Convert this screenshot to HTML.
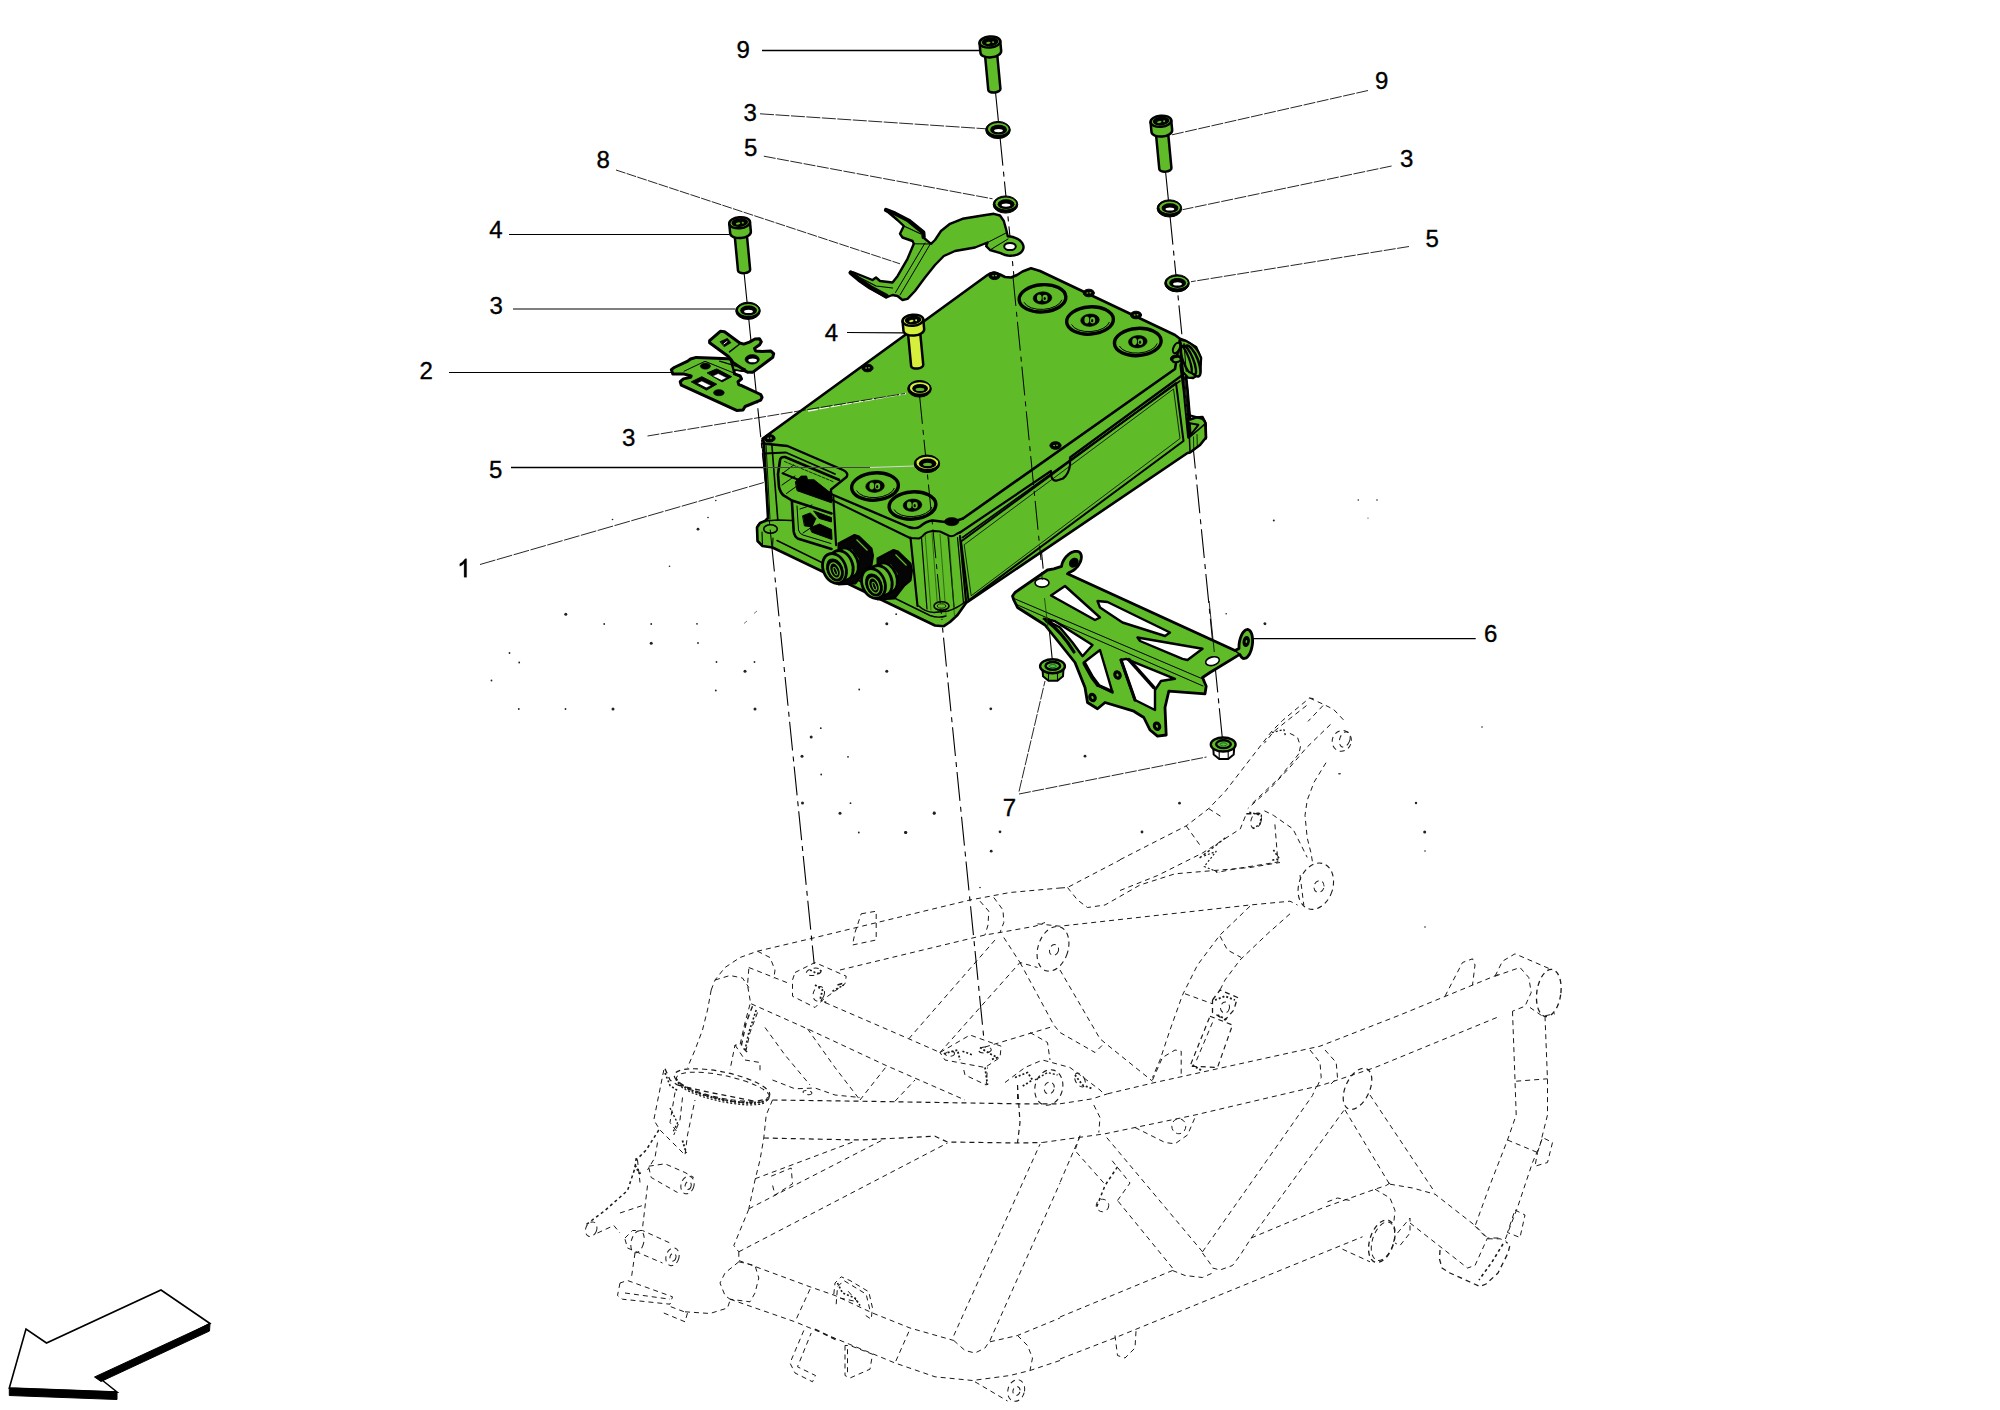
<!DOCTYPE html>
<html><head><meta charset="utf-8"><title>Parts diagram</title>
<style>
html,body{margin:0;padding:0;background:#fff;}
body{width:2000px;height:1410px;overflow:hidden;}
svg{display:block;}
text{font-family:"Liberation Sans",sans-serif;fill:#000;stroke:#000;stroke-width:0.35px;}
</style></head><body>
<svg width="2000" height="1410" viewBox="0 0 2000 1410">
<rect width="2000" height="1410" fill="#fff"/>
<path d="M711.2,990.0 L715.0,980.0 L725.0,967.5 L740.0,957.5 L757.5,951.2 L810.0,938.8 L970.0,900.0 L1010.0,892.5 L1060.0,888.0" fill="none" stroke="#1a1a1a" stroke-width="1.0" stroke-linejoin="round" stroke-dasharray="5 4"/>
<path d="M840.0,970.0 L985.0,935.0 L1000.0,932.5 L1035.0,926.2 L1045.0,922.5" fill="none" stroke="#1a1a1a" stroke-width="1.0" stroke-linejoin="round" stroke-dasharray="5 4"/>
<path d="M711.2,990.0 L707.5,1010.0 L702.5,1030.0 L695.0,1050.0 L687.5,1067.5" fill="none" stroke="#1a1a1a" stroke-width="1.0" stroke-linejoin="round" stroke-dasharray="5 4"/>
<path d="M748.8,968.8 L747.5,985.0 L750.5,1002.5 L745.0,1022.5 L740.0,1045.0 L735.0,1045.0 L730.0,1070.0" fill="none" stroke="#1a1a1a" stroke-width="1.0" stroke-linejoin="round" stroke-dasharray="5 4"/>
<path d="M715.0,980.0 L730.0,975.5 L742.5,978.0 L748.8,987.5" fill="none" stroke="#1a1a1a" stroke-width="1.0" stroke-linejoin="round" stroke-dasharray="5 4"/>
<path d="M757.5,951.2 L770.0,957.5 L775.0,970.0 L773.8,978.8" fill="none" stroke="#1a1a1a" stroke-width="1.0" stroke-linejoin="round" stroke-dasharray="5 4"/>
<path d="M748.8,967.5 L790.0,983.8" fill="none" stroke="#1a1a1a" stroke-width="1.0" stroke-linejoin="round" stroke-dasharray="5 4"/>
<path d="M795.0,972.5 L815.0,962.5 L846.2,976.2 L845.0,983.8 L822.5,1000.0 L815.0,1007.5 L792.5,996.2 L792.5,980.0 L795.0,972.5" fill="none" stroke="#1a1a1a" stroke-width="1.0" stroke-linejoin="round" stroke-dasharray="5 4"/>
<ellipse cx="813.8" cy="971.8" rx="7.5" ry="3.5" fill="none" stroke="#1a1a1a" stroke-width="1.0" transform="rotate(-10 813.8 971.8)" stroke-dasharray="5 4"/>
<ellipse cx="818.8" cy="993.8" rx="5.5" ry="7.5" fill="none" stroke="#1a1a1a" stroke-width="1.0" transform="rotate(20 818.8 993.8)" stroke-dasharray="5 4"/>
<path d="M837.5,985.0 L845.0,982.5" fill="none" stroke="#1a1a1a" stroke-width="1.6" stroke-linejoin="round" stroke-dasharray="5 4"/>
<path d="M751.2,1003.8 L810.0,1030.0 L885.0,1065.0 L965.0,1100.0" fill="none" stroke="#1a1a1a" stroke-width="1.0" stroke-linejoin="round" stroke-dasharray="5 4"/>
<path d="M825.0,1002.5 L908.8,1038.8 L940.0,1052.5" fill="none" stroke="#1a1a1a" stroke-width="1.0" stroke-linejoin="round" stroke-dasharray="5 4"/>
<path d="M807.5,1028.8 L835.0,1067.5 L860.0,1100.0" fill="none" stroke="#1a1a1a" stroke-width="1.0" stroke-linejoin="round" stroke-dasharray="5 4"/>
<path d="M765.0,1027.5 L785.0,1055.0 L810.0,1085.0" fill="none" stroke="#1a1a1a" stroke-width="1.0" stroke-linejoin="round" stroke-dasharray="5 4"/>
<path d="M860.0,1100.0 L887.5,1065.0" fill="none" stroke="#1a1a1a" stroke-width="1.0" stroke-linejoin="round" stroke-dasharray="5 4"/>
<path d="M895.0,1101.2 L915.0,1080.0" fill="none" stroke="#1a1a1a" stroke-width="1.0" stroke-linejoin="round" stroke-dasharray="5 4"/>
<path d="M772.5,1100.0 L860.0,1101.2 L1017.5,1103.8 L1060.0,1103.8" fill="none" stroke="#1a1a1a" stroke-width="1.2" stroke-linejoin="round" stroke-dasharray="5 4"/>
<path d="M763.8,1138.0 L860.0,1140.0 L935.0,1136.2 L947.5,1142.0 L1017.5,1143.0 L1042.5,1142.5" fill="none" stroke="#1a1a1a" stroke-width="1.2" stroke-linejoin="round" stroke-dasharray="5 4"/>
<path d="M772.5,1100.0 L766.2,1115.0 L763.8,1138.0 L760.0,1160.0 L755.0,1180.0 L748.8,1208.8" fill="none" stroke="#1a1a1a" stroke-width="1.0" stroke-linejoin="round" stroke-dasharray="5 4"/>
<path d="M1017.5,1085.0 L1020.0,1122.5 L1017.5,1143.0" fill="none" stroke="#1a1a1a" stroke-width="1.2" stroke-linejoin="round" stroke-dasharray="5 4"/>
<ellipse cx="722.0" cy="1085.0" rx="48.75" ry="13.0" fill="none" stroke="#1a1a1a" stroke-width="1.2" transform="rotate(12 722.0 1085.0)" stroke-dasharray="5 4"/>
<ellipse cx="723.0" cy="1087.5" rx="47.5" ry="12.0" fill="none" stroke="#1a1a1a" stroke-width="1.0" transform="rotate(12 723.0 1087.5)" stroke-dasharray="5 4"/>
<path d="M677.5,1085.0 L710.0,1092.5 L755.0,1101.2" fill="none" stroke="#1a1a1a" stroke-width="1.3" stroke-linejoin="round" stroke-dasharray="5 4"/>
<path d="M663.8,1070.0 L653.8,1120.0 L660.0,1130.0 L685.0,1155.0 L687.5,1135.0 L695.0,1100.0" fill="none" stroke="#1a1a1a" stroke-width="1.0" stroke-linejoin="round" stroke-dasharray="5 4"/>
<path d="M675.0,1092.5 L670.0,1122.5 L677.5,1132.5" fill="none" stroke="#1a1a1a" stroke-width="1.0" stroke-linejoin="round" stroke-dasharray="5 4"/>
<path d="M682.5,1097.5 L680.0,1120.0 L673.8,1135.0" fill="none" stroke="#1a1a1a" stroke-width="1.0" stroke-linejoin="round" stroke-dasharray="5 4"/>
<path d="M665.0,1068.8 L670.0,1080.0 L677.5,1085.0" fill="none" stroke="#1a1a1a" stroke-width="1.3" stroke-linejoin="round" stroke-dasharray="5 4"/>
<path d="M752.5,1006.2 L746.2,1022.5 L741.2,1046.2 L747.5,1052.5" fill="none" stroke="#1a1a1a" stroke-width="1.4" stroke-linejoin="round" stroke-dasharray="5 4"/>
<path d="M757.5,1012.5 L750.0,1032.5 L746.2,1050.0" fill="none" stroke="#1a1a1a" stroke-width="1.0" stroke-linejoin="round" stroke-dasharray="5 4"/>
<path d="M735.0,1045.0 L745.0,1060.0 L760.0,1062.5 L760.0,1072.5" fill="none" stroke="#1a1a1a" stroke-width="1.0" stroke-linejoin="round" stroke-dasharray="5 4"/>
<path d="M772.5,1080.0 L795.0,1088.8 L815.0,1088.0 L835.0,1095.0 L860.0,1097.5" fill="none" stroke="#1a1a1a" stroke-width="1.0" stroke-linejoin="round" stroke-dasharray="5 4"/>
<ellipse cx="807.5" cy="1092.5" rx="4.5" ry="2.0" fill="none" stroke="#1a1a1a" stroke-width="1.0" transform="rotate(10 807.5 1092.5)" stroke-dasharray="5 4"/>
<path d="M755.0,1178.8 L855.0,1141.2" fill="none" stroke="#1a1a1a" stroke-width="1.0" stroke-linejoin="round" stroke-dasharray="5 4"/>
<path d="M748.8,1208.8 L882.5,1140.0" fill="none" stroke="#1a1a1a" stroke-width="1.0" stroke-linejoin="round" stroke-dasharray="5 4"/>
<path d="M771.2,1176.2 L791.2,1168.0 L792.5,1183.8 L775.0,1195.0 L772.5,1185.0" fill="none" stroke="#1a1a1a" stroke-width="1.0" stroke-linejoin="round" stroke-dasharray="5 4"/>
<path d="M908.8,1038.8 L995.0,940.0" fill="none" stroke="#1a1a1a" stroke-width="1.0" stroke-linejoin="round" stroke-dasharray="5 4"/>
<path d="M940.0,1052.5 L1020.0,962.5" fill="none" stroke="#1a1a1a" stroke-width="1.0" stroke-linejoin="round" stroke-dasharray="5 4"/>
<path d="M940.0,1052.5 L970.0,1035.0 L1001.2,1046.2 L1000.0,1057.5 L985.0,1067.5 L945.0,1060.0 L940.0,1052.5" fill="none" stroke="#1a1a1a" stroke-width="1.0" stroke-linejoin="round" stroke-dasharray="5 4"/>
<path d="M963.8,1070.0 L965.0,1075.0 L986.2,1085.0 L987.5,1067.5" fill="none" stroke="#1a1a1a" stroke-width="1.0" stroke-linejoin="round" stroke-dasharray="5 4"/>
<ellipse cx="985.0" cy="1050.0" rx="6.25" ry="3.0" fill="none" stroke="#1a1a1a" stroke-width="1.0" transform="rotate(-5 985.0 1050.0)" stroke-dasharray="5 4"/>
<ellipse cx="950.0" cy="1053.8" rx="4.5" ry="2.5" fill="none" stroke="#1a1a1a" stroke-width="1.0" transform="rotate(-5 950.0 1053.8)" stroke-dasharray="5 4"/>
<path d="M980.0,901.2 L988.8,911.2 L988.0,925.0 L985.0,935.0" fill="none" stroke="#1a1a1a" stroke-width="1.0" stroke-linejoin="round" stroke-dasharray="5 4"/>
<path d="M993.8,897.5 L1003.0,910.0 L1003.8,922.5 L1000.0,932.5" fill="none" stroke="#1a1a1a" stroke-width="1.0" stroke-linejoin="round" stroke-dasharray="5 4"/>
<path d="M648.8,1167.5 L651.2,1177.5 L677.5,1192.5" fill="none" stroke="#1a1a1a" stroke-width="1.0" stroke-linejoin="round" stroke-dasharray="5 4"/>
<path d="M648.8,1166.2 L665.0,1163.8 L685.0,1172.5 L693.8,1177.5" fill="none" stroke="#1a1a1a" stroke-width="1.0" stroke-linejoin="round" stroke-dasharray="5 4"/>
<ellipse cx="687.5" cy="1185.0" rx="6.5" ry="9.0" fill="none" stroke="#1a1a1a" stroke-width="1.0" transform="rotate(15 687.5 1185.0)" stroke-dasharray="5 4"/>
<ellipse cx="688.2" cy="1185.5" rx="3.0" ry="4.0" fill="none" stroke="#1a1a1a" stroke-width="1.0" transform="rotate(15 688.2 1185.5)" stroke-dasharray="5 4"/>
<path d="M658.8,1130.0 L646.2,1150.0 L636.2,1160.0" fill="none" stroke="#1a1a1a" stroke-width="1.5" stroke-linejoin="round" stroke-dasharray="3 3"/>
<path d="M637.5,1160.0 L640.0,1182.5" fill="none" stroke="#1a1a1a" stroke-width="1.0" stroke-linejoin="round" stroke-dasharray="5 4"/>
<path d="M657.5,1142.5 L655.0,1157.5 L647.5,1170.0" fill="none" stroke="#1a1a1a" stroke-width="1.0" stroke-linejoin="round" stroke-dasharray="5 4"/>
<path d="M748.8,1209.2 L740.0,1230.5 L733.8,1245.5 L738.8,1251.8" fill="none" stroke="#1a1a1a" stroke-width="1.0" stroke-linejoin="round" stroke-dasharray="5 4"/>
<path d="M738.8,1251.8 L947.5,1143.0" fill="none" stroke="#1a1a1a" stroke-width="1.0" stroke-linejoin="round" stroke-dasharray="5 4"/>
<path d="M738.8,1251.8 L738.8,1260.5 L810.0,1286.8 L835.0,1295.5 L872.5,1313.0 L910.0,1328.0 L953.8,1340.5" fill="none" stroke="#1a1a1a" stroke-width="1.0" stroke-linejoin="round" stroke-dasharray="5 4"/>
<path d="M730.0,1299.2 L795.0,1321.8 L895.0,1363.0 L935.0,1376.8 L972.5,1380.5 L1010.0,1375.5 L1030.0,1370.5 L1060.0,1360.5" fill="none" stroke="#1a1a1a" stroke-width="1.0" stroke-linejoin="round" stroke-dasharray="5 4"/>
<path d="M738.8,1261.8 L725.0,1273.0 L720.0,1283.0 L725.0,1295.5 L730.0,1299.2" fill="none" stroke="#1a1a1a" stroke-width="1.0" stroke-linejoin="round" stroke-dasharray="5 4"/>
<path d="M738.8,1261.8 L755.0,1265.5 L758.8,1278.0 L755.0,1293.0 L750.0,1301.8 L730.0,1299.2" fill="none" stroke="#1a1a1a" stroke-width="1.0" stroke-linejoin="round" stroke-dasharray="5 4"/>
<path d="M810.0,1289.2 L795.0,1321.8" fill="none" stroke="#1a1a1a" stroke-width="1.0" stroke-linejoin="round" stroke-dasharray="5 4"/>
<path d="M908.8,1331.8 L895.0,1363.0" fill="none" stroke="#1a1a1a" stroke-width="1.0" stroke-linejoin="round" stroke-dasharray="5 4"/>
<path d="M953.8,1340.5 L965.0,1350.5 L975.0,1353.0 L985.0,1348.0 L990.0,1340.5" fill="none" stroke="#1a1a1a" stroke-width="1.0" stroke-linejoin="round" stroke-dasharray="5 4"/>
<path d="M953.8,1335.5 L1040.0,1144.2" fill="none" stroke="#1a1a1a" stroke-width="1.0" stroke-linejoin="round" stroke-dasharray="5 4"/>
<path d="M990.0,1340.5 L1060.0,1183.0" fill="none" stroke="#1a1a1a" stroke-width="1.0" stroke-linejoin="round" stroke-dasharray="5 4"/>
<path d="M990.0,1341.8 L1017.5,1335.5 L1060.0,1318.0" fill="none" stroke="#1a1a1a" stroke-width="1.0" stroke-linejoin="round" stroke-dasharray="5 4"/>
<path d="M1017.5,1335.5 L1027.5,1345.5 L1032.5,1358.0 L1030.0,1370.5" fill="none" stroke="#1a1a1a" stroke-width="1.0" stroke-linejoin="round" stroke-dasharray="5 4"/>
<ellipse cx="1016.2" cy="1390.5" rx="8.25" ry="11.0" fill="none" stroke="#1a1a1a" stroke-width="1.0" transform="rotate(15 1016.2 1390.5)" stroke-dasharray="5 4"/>
<ellipse cx="1016.5" cy="1391.0" rx="3.5" ry="4.5" fill="none" stroke="#1a1a1a" stroke-width="1.0" transform="rotate(15 1016.5 1391.0)" stroke-dasharray="5 4"/>
<path d="M975.0,1381.8 L1007.5,1401.0" fill="none" stroke="#1a1a1a" stroke-width="1.0" stroke-linejoin="round" stroke-dasharray="5 4"/>
<path d="M833.8,1294.2 L835.0,1283.0 L841.2,1276.8 L850.0,1280.5 L868.8,1291.8 L872.5,1308.0 L871.2,1319.2 L863.8,1314.2" fill="none" stroke="#1a1a1a" stroke-width="1.0" stroke-linejoin="round" stroke-dasharray="5 4"/>
<path d="M836.2,1304.2 L837.5,1286.8 L843.8,1280.5 L866.2,1294.2 L870.0,1310.5" fill="none" stroke="#1a1a1a" stroke-width="1.0" stroke-linejoin="round" stroke-dasharray="5 4"/>
<path d="M840.0,1298.0 L857.5,1301.8 L847.5,1290.5" fill="none" stroke="#1a1a1a" stroke-width="1.0" stroke-linejoin="round" stroke-dasharray="5 4"/>
<path d="M803.8,1330.5 L790.0,1363.0 L795.0,1373.0 L812.5,1381.8 L815.5,1375.5 L797.5,1366.8 L811.2,1333.0" fill="none" stroke="#1a1a1a" stroke-width="1.0" stroke-linejoin="round" stroke-dasharray="5 4"/>
<path d="M815.0,1329.2 L837.5,1340.5" fill="none" stroke="#1a1a1a" stroke-width="1.5" stroke-linejoin="round" stroke-dasharray="5 4"/>
<path d="M845.0,1345.5 L845.0,1375.5 L850.0,1378.0 L870.0,1369.2 L872.5,1354.2 L850.0,1345.5 L845.0,1345.5" fill="none" stroke="#1a1a1a" stroke-width="1.0" stroke-linejoin="round" stroke-dasharray="5 4"/>
<path d="M847.5,1349.2 L847.5,1373.0" fill="none" stroke="#1a1a1a" stroke-width="1.0" stroke-linejoin="round" stroke-dasharray="5 4"/>
<path d="M625.0,1238.0 L632.5,1230.5 L642.5,1230.5 L670.0,1243.0" fill="none" stroke="#1a1a1a" stroke-width="1.0" stroke-linejoin="round" stroke-dasharray="5 4"/>
<path d="M625.0,1239.2 L627.5,1248.0 L662.5,1263.0" fill="none" stroke="#1a1a1a" stroke-width="1.0" stroke-linejoin="round" stroke-dasharray="5 4"/>
<ellipse cx="672.5" cy="1256.8" rx="6.5" ry="9.0" fill="none" stroke="#1a1a1a" stroke-width="1.0" transform="rotate(15 672.5 1256.8)" stroke-dasharray="5 4"/>
<ellipse cx="673.0" cy="1257.2" rx="3.0" ry="4.0" fill="none" stroke="#1a1a1a" stroke-width="1.0" transform="rotate(15 673.0 1257.2)" stroke-dasharray="5 4"/>
<ellipse cx="637.5" cy="1241.8" rx="6.25" ry="11.25" fill="none" stroke="#1a1a1a" stroke-width="1.0" transform="rotate(15 637.5 1241.8)" stroke-dasharray="5 4"/>
<ellipse cx="591.2" cy="1229.2" rx="5.5" ry="7.5" fill="none" stroke="#1a1a1a" stroke-width="1.0" transform="rotate(20 591.2 1229.2)" stroke-dasharray="5 4"/>
<path d="M636.2,1158.0 L635.0,1168.0 L627.5,1190.5 L605.0,1210.5 L585.0,1225.5" fill="none" stroke="#1a1a1a" stroke-width="1.5" stroke-linejoin="round" stroke-dasharray="3 3"/>
<path d="M597.5,1233.0 L613.8,1225.5 L620.0,1233.0" fill="none" stroke="#1a1a1a" stroke-width="1.0" stroke-linejoin="round" stroke-dasharray="5 4"/>
<path d="M647.5,1185.5 L642.5,1228.0" fill="none" stroke="#1a1a1a" stroke-width="1.0" stroke-linejoin="round" stroke-dasharray="5 4"/>
<path d="M620.0,1213.0 L642.5,1205.5" fill="none" stroke="#1a1a1a" stroke-width="1.0" stroke-linejoin="round" stroke-dasharray="5 4"/>
<path d="M635.0,1253.0 L631.2,1279.2" fill="none" stroke="#1a1a1a" stroke-width="1.0" stroke-linejoin="round" stroke-dasharray="5 4"/>
<path d="M620.0,1283.0 L617.5,1295.5 L622.5,1299.2 L670.0,1304.2 L672.5,1296.8 L627.5,1280.5 L620.0,1283.0" fill="none" stroke="#1a1a1a" stroke-width="1.0" stroke-linejoin="round" stroke-dasharray="5 4"/>
<path d="M625.0,1293.0 L670.0,1299.2" fill="none" stroke="#1a1a1a" stroke-width="1.0" stroke-linejoin="round" stroke-dasharray="5 4"/>
<path d="M663.8,1313.0 L685.0,1321.8 L687.5,1313.0 L667.5,1305.5" fill="none" stroke="#1a1a1a" stroke-width="1.0" stroke-linejoin="round" stroke-dasharray="5 4"/>
<path d="M685.0,1311.8 L710.0,1313.5 L727.5,1308.0 L730.0,1300.5" fill="none" stroke="#1a1a1a" stroke-width="1.0" stroke-linejoin="round" stroke-dasharray="5 4"/>
<path d="M1060.0,888.0 L1067.5,887.5 L1120.0,860.0" fill="none" stroke="#1a1a1a" stroke-width="1.0" stroke-linejoin="round" stroke-dasharray="5 4"/>
<path d="M1067.5,887.5 L1077.5,900.0 L1087.5,907.5 L1105.0,905.0 L1140.0,885.0 L1175.0,873.8 L1250.0,867.5 L1280.0,862.5" fill="none" stroke="#1a1a1a" stroke-width="1.0" stroke-linejoin="round" stroke-dasharray="5 4"/>
<path d="M1037.5,923.8 L1060.0,926.2 L1250.0,905.0 L1290.0,901.2 L1297.5,905.0" fill="none" stroke="#1a1a1a" stroke-width="1.0" stroke-linejoin="round" stroke-dasharray="5 4"/>
<ellipse cx="1315.8" cy="886.2" rx="17.0" ry="23.75" fill="none" stroke="#1a1a1a" stroke-width="1.1" transform="rotate(18 1315.8 886.2)" stroke-dasharray="5 4"/>
<ellipse cx="1319.0" cy="886.5" rx="5.0" ry="6.0" fill="none" stroke="#1a1a1a" stroke-width="1.0" transform="rotate(18 1319.0 886.5)" stroke-dasharray="5 4"/>
<path d="M1300.0,875.0 L1303.8,905.0" fill="none" stroke="#1a1a1a" stroke-width="1.0" stroke-linejoin="round" stroke-dasharray="5 4"/>
<ellipse cx="1053.0" cy="948.8" rx="15.0" ry="23.0" fill="none" stroke="#1a1a1a" stroke-width="1.1" transform="rotate(18 1053.0 948.8)" stroke-dasharray="5 4"/>
<ellipse cx="1054.0" cy="950.0" rx="4.5" ry="5.5" fill="none" stroke="#1a1a1a" stroke-width="1.0" transform="rotate(18 1054.0 950.0)" stroke-dasharray="5 4"/>
<path d="M1003.8,937.5 L1020.0,962.5 L1037.5,967.5" fill="none" stroke="#1a1a1a" stroke-width="1.0" stroke-linejoin="round" stroke-dasharray="5 4"/>
<path d="M1020.0,962.5 L1053.8,1025.0 L1060.0,1032.5 L1095.0,1052.5 L1102.5,1045.0" fill="none" stroke="#1a1a1a" stroke-width="1.0" stroke-linejoin="round" stroke-dasharray="5 4"/>
<path d="M1060.0,970.0 L1100.0,1038.8 L1107.5,1045.0 L1152.5,1081.2" fill="none" stroke="#1a1a1a" stroke-width="1.0" stroke-linejoin="round" stroke-dasharray="5 4"/>
<path d="M985.0,1047.0 L1000.0,1042.5 L1053.8,1026.2" fill="none" stroke="#1a1a1a" stroke-width="1.0" stroke-linejoin="round" stroke-dasharray="5 4"/>
<path d="M1030.0,1032.5 L1047.5,1042.5 L1050.0,1060.0" fill="none" stroke="#1a1a1a" stroke-width="1.0" stroke-linejoin="round" stroke-dasharray="5 4"/>
<path d="M1250.0,906.2 L1220.0,935.0 L1197.5,965.0 L1182.5,995.0 L1170.0,1030.0 L1160.0,1060.0 L1152.5,1077.5" fill="none" stroke="#1a1a1a" stroke-width="1.0" stroke-linejoin="round" stroke-dasharray="5 4"/>
<path d="M1290.0,913.8 L1267.5,933.8 L1240.0,960.0 L1225.0,980.0 L1220.0,990.0" fill="none" stroke="#1a1a1a" stroke-width="1.0" stroke-linejoin="round" stroke-dasharray="5 4"/>
<path d="M1220.0,936.2 L1227.5,950.0 L1241.2,957.5" fill="none" stroke="#1a1a1a" stroke-width="1.0" stroke-linejoin="round" stroke-dasharray="5 4"/>
<path d="M1185.0,993.8 L1212.5,1003.8" fill="none" stroke="#1a1a1a" stroke-width="1.0" stroke-linejoin="round" stroke-dasharray="5 4"/>
<path d="M1212.5,1000.0 L1220.0,990.0 L1237.5,997.5 L1233.8,1010.0 L1225.0,1020.0 L1212.5,1012.5 L1212.5,1000.0" fill="none" stroke="#1a1a1a" stroke-width="1.3" stroke-linejoin="round" stroke-dasharray="5 4"/>
<ellipse cx="1225.0" cy="1007.5" rx="4.5" ry="5.5" fill="none" stroke="#1a1a1a" stroke-width="1.0" transform="rotate(10 1225.0 1007.5)" stroke-dasharray="5 4"/>
<path d="M1210.0,1016.2 L1232.5,1025.0 L1217.5,1067.5 L1190.0,1066.2 L1210.0,1016.2" fill="none" stroke="#1a1a1a" stroke-width="1.2" stroke-linejoin="round" stroke-dasharray="5 4"/>
<path d="M1212.5,1022.5 L1195.0,1063.8" fill="none" stroke="#1a1a1a" stroke-width="1.0" stroke-linejoin="round" stroke-dasharray="5 4"/>
<path d="M1152.5,1080.0 L1162.5,1057.5 L1175.0,1050.0 L1181.2,1051.2 L1181.2,1077.5" fill="none" stroke="#1a1a1a" stroke-width="1.0" stroke-linejoin="round" stroke-dasharray="5 4"/>
<path d="M1107.5,1093.8 L1155.0,1082.5 L1320.0,1046.2 L1400.0,1015.0 L1500.0,973.8" fill="none" stroke="#1a1a1a" stroke-width="1.0" stroke-linejoin="round" stroke-dasharray="5 4"/>
<path d="M1042.5,1142.5 L1105.0,1133.8 L1195.0,1115.0 L1322.5,1085.0 L1375.0,1067.5 L1500.0,1016.2" fill="none" stroke="#1a1a1a" stroke-width="1.0" stroke-linejoin="round" stroke-dasharray="5 4"/>
<path d="M1060.0,1103.8 L1092.5,1098.8 L1107.5,1093.8" fill="none" stroke="#1a1a1a" stroke-width="1.0" stroke-linejoin="round" stroke-dasharray="5 4"/>
<path d="M1093.8,1105.0 L1100.0,1117.5 L1098.8,1132.5" fill="none" stroke="#1a1a1a" stroke-width="1.0" stroke-linejoin="round" stroke-dasharray="5 4"/>
<path d="M1310.0,1050.0 L1320.0,1062.5 L1321.2,1077.5 L1316.2,1088.8" fill="none" stroke="#1a1a1a" stroke-width="1.0" stroke-linejoin="round" stroke-dasharray="5 4"/>
<path d="M1325.0,1050.0 L1336.2,1062.5 L1337.5,1077.5 L1330.0,1085.0" fill="none" stroke="#1a1a1a" stroke-width="1.0" stroke-linejoin="round" stroke-dasharray="5 4"/>
<path d="M1445.0,996.2 L1462.5,962.5 L1472.5,958.8 L1475.0,965.0 L1472.5,985.0" fill="none" stroke="#1a1a1a" stroke-width="1.0" stroke-linejoin="round" stroke-dasharray="5 4"/>
<ellipse cx="1357.5" cy="1088.8" rx="12.0" ry="22.0" fill="none" stroke="#1a1a1a" stroke-width="1.2" transform="rotate(25 1357.5 1088.8)" stroke-dasharray="5 4"/>
<path d="M1135.0,1127.5 L1165.0,1142.5 L1175.0,1143.8 L1187.5,1135.0 L1195.0,1117.5" fill="none" stroke="#1a1a1a" stroke-width="1.0" stroke-linejoin="round" stroke-dasharray="5 4"/>
<ellipse cx="1178.8" cy="1126.2" rx="7.0" ry="7.5" fill="none" stroke="#1a1a1a" stroke-width="1.0" transform="rotate(0 1178.8 1126.2)" stroke-dasharray="5 4"/>
<ellipse cx="1048.8" cy="1087.5" rx="13.75" ry="18.0" fill="none" stroke="#1a1a1a" stroke-width="1.1" transform="rotate(15 1048.8 1087.5)" stroke-dasharray="5 4"/>
<ellipse cx="1049.2" cy="1088.0" rx="5.0" ry="6.0" fill="none" stroke="#1a1a1a" stroke-width="1.0" transform="rotate(15 1049.2 1088.0)" stroke-dasharray="5 4"/>
<path d="M1005.0,1082.5 L1025.0,1067.5 L1042.5,1060.0 L1070.0,1067.5 L1100.0,1090.0 L1105.0,1095.0" fill="none" stroke="#1a1a1a" stroke-width="1.0" stroke-linejoin="round" stroke-dasharray="5 4"/>
<path d="M1017.5,1085.0 L1017.5,1103.8" fill="none" stroke="#1a1a1a" stroke-width="1.0" stroke-linejoin="round" stroke-dasharray="5 4"/>
<ellipse cx="1080.0" cy="1080.0" rx="4.5" ry="7.5" fill="none" stroke="#1a1a1a" stroke-width="1.0" transform="rotate(-30 1080.0 1080.0)" stroke-dasharray="5 4"/>
<path d="M1080.0,1136.2 L1060.0,1182.5" fill="none" stroke="#1a1a1a" stroke-width="1.0" stroke-linejoin="round" stroke-dasharray="5 4"/>
<path d="M1345.0,1110.0 L1390.0,1185.0" fill="none" stroke="#1a1a1a" stroke-width="1.0" stroke-linejoin="round" stroke-dasharray="5 4"/>
<path d="M1370.0,1095.0 L1435.0,1192.5" fill="none" stroke="#1a1a1a" stroke-width="1.0" stroke-linejoin="round" stroke-dasharray="5 4"/>
<path d="M1060.0,1317.0 L1172.5,1270.5" fill="none" stroke="#1a1a1a" stroke-width="1.0" stroke-linejoin="round" stroke-dasharray="5 4"/>
<path d="M1060.0,1359.0 L1117.5,1336.8 L1335.0,1248.0 L1362.5,1236.8" fill="none" stroke="#1a1a1a" stroke-width="1.0" stroke-linejoin="round" stroke-dasharray="5 4"/>
<path d="M1115.0,1335.5 L1117.5,1355.5 L1125.0,1358.0 L1135.0,1348.0 L1136.2,1328.0" fill="none" stroke="#1a1a1a" stroke-width="1.0" stroke-linejoin="round" stroke-dasharray="5 4"/>
<path d="M1172.5,1270.5 L1185.0,1275.5 L1202.5,1277.5 L1212.5,1273.0" fill="none" stroke="#1a1a1a" stroke-width="1.0" stroke-linejoin="round" stroke-dasharray="5 4"/>
<path d="M1212.5,1268.0 L1220.0,1270.0 L1232.5,1265.5 L1240.0,1255.5 L1251.2,1238.0" fill="none" stroke="#1a1a1a" stroke-width="1.0" stroke-linejoin="round" stroke-dasharray="5 4"/>
<path d="M1202.5,1253.0 L1212.5,1266.8" fill="none" stroke="#1a1a1a" stroke-width="1.0" stroke-linejoin="round" stroke-dasharray="5 4"/>
<path d="M1172.5,1268.0 L1117.5,1200.5" fill="none" stroke="#1a1a1a" stroke-width="1.0" stroke-linejoin="round" stroke-dasharray="5 4"/>
<path d="M1202.5,1251.8 L1105.0,1135.5" fill="none" stroke="#1a1a1a" stroke-width="1.0" stroke-linejoin="round" stroke-dasharray="5 4"/>
<path d="M1117.5,1200.5 L1130.0,1183.0 L1110.0,1158.0" fill="none" stroke="#1a1a1a" stroke-width="1.0" stroke-linejoin="round" stroke-dasharray="5 4"/>
<path d="M1080.0,1135.5 L1075.0,1150.5 L1103.8,1183.0" fill="none" stroke="#1a1a1a" stroke-width="1.0" stroke-linejoin="round" stroke-dasharray="5 4"/>
<path d="M1117.5,1166.8 L1105.0,1185.5 L1096.2,1208.0" fill="none" stroke="#1a1a1a" stroke-width="1.5" stroke-linejoin="round" stroke-dasharray="3 3"/>
<ellipse cx="1102.5" cy="1205.5" rx="6.25" ry="6.25" fill="none" stroke="#1a1a1a" stroke-width="1.0" transform="rotate(0 1102.5 1205.5)" stroke-dasharray="5 4"/>
<path d="M1202.5,1251.8 L1312.5,1095.5 L1316.2,1086.8" fill="none" stroke="#1a1a1a" stroke-width="1.0" stroke-linejoin="round" stroke-dasharray="5 4"/>
<path d="M1251.2,1238.0 L1343.8,1110.5" fill="none" stroke="#1a1a1a" stroke-width="1.0" stroke-linejoin="round" stroke-dasharray="5 4"/>
<path d="M1251.2,1238.0 L1322.5,1208.0 L1375.0,1189.2 L1386.2,1185.5" fill="none" stroke="#1a1a1a" stroke-width="1.0" stroke-linejoin="round" stroke-dasharray="5 4"/>
<path d="M1327.5,1201.8 L1337.5,1198.0 L1350.0,1200.5" fill="none" stroke="#1a1a1a" stroke-width="1.0" stroke-linejoin="round" stroke-dasharray="5 4"/>
<path d="M1375.0,1189.2 L1390.0,1198.0 L1395.0,1210.5 L1393.8,1223.0" fill="none" stroke="#1a1a1a" stroke-width="1.0" stroke-linejoin="round" stroke-dasharray="5 4"/>
<ellipse cx="1381.8" cy="1241.2" rx="12.0" ry="22.0" fill="none" stroke="#1a1a1a" stroke-width="1.3" transform="rotate(18 1381.8 1241.2)" stroke-dasharray="5 4"/>
<ellipse cx="1383.0" cy="1241.2" rx="10.5" ry="20.0" fill="none" stroke="#1a1a1a" stroke-width="1.0" transform="rotate(18 1383.0 1241.2)" stroke-dasharray="5 4"/>
<path d="M1342.5,1249.2 L1370.0,1261.8" fill="none" stroke="#1a1a1a" stroke-width="1.0" stroke-linejoin="round" stroke-dasharray="5 4"/>
<path d="M1397.5,1233.0 L1410.0,1218.0 L1410.0,1233.0 L1400.0,1245.5 L1395.0,1243.0" fill="none" stroke="#1a1a1a" stroke-width="1.0" stroke-linejoin="round" stroke-dasharray="5 4"/>
<path d="M1390.0,1183.0 L1386.2,1185.5" fill="none" stroke="#1a1a1a" stroke-width="1.0" stroke-linejoin="round" stroke-dasharray="5 4"/>
<path d="M1390.0,1184.2 L1412.5,1188.0 L1435.0,1194.2 L1475.0,1225.5 L1487.5,1238.0" fill="none" stroke="#1a1a1a" stroke-width="1.0" stroke-linejoin="round" stroke-dasharray="5 4"/>
<path d="M1410.0,1223.0 L1467.5,1268.0 L1475.0,1265.5 L1487.5,1238.0 L1500.0,1238.0" fill="none" stroke="#1a1a1a" stroke-width="1.0" stroke-linejoin="round" stroke-dasharray="5 4"/>
<path d="M1495.0,976.2 L1520.0,967.5 L1528.8,977.5 L1531.2,992.5 L1525.0,1006.2 L1512.5,1011.2" fill="none" stroke="#1a1a1a" stroke-width="1.0" stroke-linejoin="round" stroke-dasharray="5 4"/>
<path d="M1495.0,976.2 L1502.5,961.2 L1515.0,953.8 L1552.5,970.0" fill="none" stroke="#1a1a1a" stroke-width="1.0" stroke-linejoin="round" stroke-dasharray="5 4"/>
<path d="M1530.0,1007.5 L1542.5,1016.2 L1555.0,1013.8" fill="none" stroke="#1a1a1a" stroke-width="1.0" stroke-linejoin="round" stroke-dasharray="5 4"/>
<ellipse cx="1548.8" cy="993.0" rx="12.0" ry="23.75" fill="none" stroke="#1a1a1a" stroke-width="1.3" transform="rotate(8 1548.8 993.0)" stroke-dasharray="5 4"/>
<path d="M1512.5,1011.2 L1515.0,1080.0 L1516.2,1115.0 L1507.5,1140.0 L1490.0,1185.0 L1475.0,1226.2" fill="none" stroke="#1a1a1a" stroke-width="1.0" stroke-linejoin="round" stroke-dasharray="5 4"/>
<path d="M1545.0,1016.2 L1547.5,1080.0 L1547.5,1115.0 L1540.0,1145.0 L1532.5,1162.5 L1517.5,1207.5 L1505.0,1240.0" fill="none" stroke="#1a1a1a" stroke-width="1.0" stroke-linejoin="round" stroke-dasharray="5 4"/>
<path d="M1516.2,1081.2 L1547.5,1078.8" fill="none" stroke="#1a1a1a" stroke-width="1.0" stroke-linejoin="round" stroke-dasharray="5 4"/>
<path d="M1507.5,1140.0 L1537.5,1152.5" fill="none" stroke="#1a1a1a" stroke-width="1.0" stroke-linejoin="round" stroke-dasharray="5 4"/>
<path d="M1537.5,1152.5 L1542.5,1137.5 L1552.5,1142.5 L1547.5,1162.5 L1535.0,1166.2 L1537.5,1152.5" fill="none" stroke="#1a1a1a" stroke-width="1.0" stroke-linejoin="round" stroke-dasharray="5 4"/>
<path d="M1515.0,1210.0 L1525.0,1215.0 L1520.0,1237.5 L1507.5,1232.5 L1515.0,1210.0" fill="none" stroke="#1a1a1a" stroke-width="1.0" stroke-linejoin="round" stroke-dasharray="5 4"/>
<path d="M1475.0,1226.2 L1487.5,1238.8 L1500.0,1238.8 L1506.2,1241.2" fill="none" stroke="#1a1a1a" stroke-width="1.0" stroke-linejoin="round" stroke-dasharray="5 4"/>
<path d="M1120.0,859.7 L1186.2,825.9 L1208.7,808.6 L1225.3,791.3 L1271.9,731.1 L1282.4,720.6 L1309.5,698.0 L1314.7,698.8" fill="none" stroke="#1a1a1a" stroke-width="1.0" stroke-linejoin="round" stroke-dasharray="5 4"/>
<path d="M1306.5,705.6 L1285.4,722.1 L1273.4,731.9 L1264.4,743.2" fill="none" stroke="#1a1a1a" stroke-width="1.0" stroke-linejoin="round" stroke-dasharray="5 4"/>
<path d="M1309.5,698.0 L1323.0,704.1 L1333.5,709.3 L1345.6,722.1" fill="none" stroke="#1a1a1a" stroke-width="1.0" stroke-linejoin="round" stroke-dasharray="5 4"/>
<path d="M1323.0,705.6 L1308.0,721.4" fill="none" stroke="#1a1a1a" stroke-width="1.0" stroke-linejoin="round" stroke-dasharray="5 4"/>
<path d="M1330.5,724.4 L1306.5,747.7 L1289.9,767.2 L1270.4,788.3 L1247.8,808.6" fill="none" stroke="#1a1a1a" stroke-width="1.0" stroke-linejoin="round" stroke-dasharray="5 4"/>
<path d="M1298.9,753.7 L1279.4,777.7 L1250.8,804.8" fill="none" stroke="#1a1a1a" stroke-width="1.0" stroke-linejoin="round" stroke-dasharray="5 4"/>
<path d="M1289.9,733.4 L1297.4,737.1 L1300.5,746.2 L1298.9,753.7" fill="none" stroke="#1a1a1a" stroke-width="1.0" stroke-linejoin="round" stroke-dasharray="5 4"/>
<ellipse cx="1341.8" cy="740.9" rx="9.5" ry="10.5" fill="none" stroke="#1a1a1a" stroke-width="1.0" transform="rotate(20 1341.8 740.9)" stroke-dasharray="5 4"/>
<ellipse cx="1344.8" cy="739.4" rx="5" ry="8" fill="none" stroke="#1a1a1a" stroke-width="1.0" transform="rotate(20 1344.8 739.4)" stroke-dasharray="5 4"/>
<path d="M1326.0,762.7 L1314.0,782.3 L1307.2,800.3 L1305.0,815.3 L1307.2,837.9 L1311.0,852.9 L1312.5,862.0" fill="none" stroke="#1a1a1a" stroke-width="1.0" stroke-linejoin="round" stroke-dasharray="5 4"/>
<path d="M1264.4,810.8 L1273.4,815.3 L1292.9,828.9 L1302.0,846.9 L1307.2,857.4" fill="none" stroke="#1a1a1a" stroke-width="1.0" stroke-linejoin="round" stroke-dasharray="5 4"/>
<path d="M1246.3,813.8 L1261.4,813.8" fill="none" stroke="#1a1a1a" stroke-width="1.4" stroke-linejoin="round" stroke-dasharray="5 4"/>
<path d="M1274.9,824.4 L1277.9,862.0 L1264.4,864.2 L1240.3,868.0 L1216.2,872.5" fill="none" stroke="#1a1a1a" stroke-width="1.0" stroke-linejoin="round" stroke-dasharray="5 4"/>
<path d="M1208.7,808.6 L1223.8,818.3" fill="none" stroke="#1a1a1a" stroke-width="1.0" stroke-linejoin="round" stroke-dasharray="5 4"/>
<path d="M1186.2,825.9 L1201.2,846.9" fill="none" stroke="#1a1a1a" stroke-width="1.0" stroke-linejoin="round" stroke-dasharray="5 4"/>
<path d="M1120.0,890.5 L1157.6,875.5 L1202.7,852.9 L1240.3,828.9 L1246.3,813.8" fill="none" stroke="#1a1a1a" stroke-width="1.0" stroke-linejoin="round" stroke-dasharray="5 4"/>
<path d="M1225.3,837.9 L1210.2,849.9 L1198.2,858.9" fill="none" stroke="#1a1a1a" stroke-width="1.4" stroke-linejoin="round" stroke-dasharray="2.5 2.5"/>
<ellipse cx="1256.1" cy="820.6" rx="5" ry="8" fill="none" stroke="#1a1a1a" stroke-width="1.0" transform="rotate(20 1256.1 820.6)" stroke-dasharray="5 4"/>
<path d="M861.2,913.8 L876.2,911.2 L876.2,940.0 L852.5,945.0 L855.0,932.5 L861.2,913.8" fill="none" stroke="#1a1a1a" stroke-width="1.0" stroke-linejoin="round" stroke-dasharray="5 4"/>
<circle cx="565.8" cy="614.2" r="1.5" fill="#222"/>
<circle cx="745.0" cy="671.2" r="1.5" fill="#222"/>
<circle cx="755.0" cy="709.0" r="1.5" fill="#222"/>
<circle cx="613.0" cy="709.0" r="1.5" fill="#222"/>
<circle cx="886.8" cy="623.8" r="1.5" fill="#222"/>
<circle cx="886.8" cy="671.2" r="1.5" fill="#222"/>
<circle cx="840.0" cy="813.2" r="1.5" fill="#222"/>
<circle cx="905.8" cy="832.5" r="1.5" fill="#222"/>
<circle cx="934.2" cy="813.2" r="1.5" fill="#222"/>
<circle cx="811.2" cy="737.0" r="1.5" fill="#222"/>
<circle cx="802.0" cy="756.2" r="1.5" fill="#222"/>
<circle cx="802.5" cy="803.0" r="1.5" fill="#222"/>
<circle cx="651.2" cy="643.2" r="1.5" fill="#222"/>
<circle cx="604.2" cy="624.0" r="0.9" fill="#222"/>
<circle cx="651.2" cy="624.0" r="0.9" fill="#222"/>
<circle cx="697.0" cy="623.8" r="0.9" fill="#222"/>
<circle cx="698.0" cy="643.0" r="0.9" fill="#222"/>
<circle cx="509.5" cy="653.0" r="0.9" fill="#222"/>
<circle cx="519.2" cy="662.5" r="0.9" fill="#222"/>
<circle cx="491.5" cy="680.5" r="0.9" fill="#222"/>
<circle cx="518.8" cy="709.0" r="0.9" fill="#222"/>
<circle cx="565.5" cy="709.0" r="0.9" fill="#222"/>
<circle cx="716.5" cy="662.0" r="0.9" fill="#222"/>
<circle cx="754.5" cy="662.0" r="0.9" fill="#222"/>
<circle cx="715.8" cy="690.5" r="0.9" fill="#222"/>
<circle cx="820.8" cy="728.2" r="0.9" fill="#222"/>
<circle cx="848.0" cy="756.8" r="0.9" fill="#222"/>
<circle cx="821.2" cy="774.5" r="0.9" fill="#222"/>
<circle cx="850.5" cy="803.2" r="0.9" fill="#222"/>
<circle cx="858.8" cy="832.5" r="0.9" fill="#222"/>
<circle cx="859.2" cy="689.5" r="0.9" fill="#222"/>
<circle cx="896.2" cy="614.2" r="0.9" fill="#222"/>
<circle cx="990.8" cy="708.8" r="1.4" fill="#222"/>
<circle cx="1085.0" cy="756.2" r="1.4" fill="#222"/>
<circle cx="934.2" cy="813.0" r="1.4" fill="#222"/>
<circle cx="905.5" cy="832.5" r="1.4" fill="#222"/>
<circle cx="1000.0" cy="831.8" r="1.4" fill="#222"/>
<circle cx="991.2" cy="851.2" r="1.4" fill="#222"/>
<circle cx="1142.0" cy="832.0" r="1.4" fill="#222"/>
<circle cx="1179.5" cy="803.2" r="1.4" fill="#222"/>
<circle cx="1265.0" cy="623.8" r="1.4" fill="#222"/>
<circle cx="1226.2" cy="613.8" r="0.8" fill="#222"/>
<circle cx="1340.0" cy="773.8" r="0.8" fill="#222"/>
<circle cx="980.0" cy="887.5" r="0.8" fill="#222"/>
<circle cx="698.0" cy="529.2" r="1.4" fill="#222"/>
<circle cx="669.5" cy="566.2" r="0.8" fill="#222"/>
<circle cx="612.5" cy="519.5" r="0.8" fill="#222"/>
<circle cx="708.0" cy="517.5" r="0.8" fill="#222"/>
<circle cx="715.8" cy="500.5" r="0.8" fill="#222"/>
<circle cx="1273.8" cy="520.4" r="1" fill="#222"/>
<circle cx="1358.3" cy="500.0" r="0.8" fill="#222"/>
<circle cx="1377.0" cy="500.0" r="0.8" fill="#222"/>
<circle cx="1368.0" cy="518.0" r="0.6" fill="#222"/>
<circle cx="1264.6" cy="623.6" r="1" fill="#222"/>
<circle cx="1482.0" cy="727.0" r="0.8" fill="#222"/>
<circle cx="1339.0" cy="773.7" r="0.8" fill="#222"/>
<circle cx="1416.0" cy="803.0" r="1.2" fill="#222"/>
<circle cx="1424.7" cy="832.0" r="1.5" fill="#222"/>
<circle cx="1425.0" cy="851.0" r="0.8" fill="#222"/>
<circle cx="1425.0" cy="927.0" r="0.8" fill="#222"/>
<line x1="744" y1="623.5" x2="747" y2="621" stroke="#555" stroke-width="0.8" />
<line x1="754" y1="613.5" x2="757" y2="611" stroke="#555" stroke-width="0.8" />
<path d="M1440.0,1250.0 L1439.5,1259.0 L1442.0,1268.0 L1450.0,1273.0 L1470.0,1282.0 L1480.0,1286.5 L1486.0,1284.0 L1498.0,1273.0 L1508.0,1253.0 L1510.0,1245.0 L1506.0,1242.0" fill="none" stroke="#1a1a1a" stroke-width="1.3" stroke-linejoin="round" stroke-dasharray="5 4"/>
<path d="M1503.0,1244.0 L1492.0,1262.0 L1479.0,1280.0" fill="none" stroke="#1a1a1a" stroke-width="1.6" stroke-linejoin="round" stroke-dasharray="3 3"/>
<path d="M767.4,1099.6 L765.8,1100.6 L763.6,1101.5 L760.8,1102.1 L757.5,1102.6 L753.7,1102.9 L749.4,1102.9 L744.7,1102.7 L739.8,1102.3 L734.5,1101.7 L729.1,1100.9 L723.6,1100.0 L718.1,1098.8 L712.7,1097.5 L707.3,1096.1 L702.2,1094.5 L697.4,1092.9 L693.0,1091.1 L689.0,1089.4 L685.4,1087.6 L682.4,1085.8 L680.0,1084.1 L678.2,1082.4 L677.0,1080.8 L676.5,1079.2" fill="none" stroke="#1a1a1a" stroke-width="2.2" stroke-linejoin="round" stroke-dasharray="2 2"/>
<path d="M764.0,1103.2 L762.0,1103.8 L759.6,1104.3 L756.8,1104.6 L753.7,1104.8 L750.2,1104.9 L746.4,1104.8 L742.4,1104.6 L738.2,1104.2 L733.8,1103.6 L729.4,1103.0 L724.8,1102.2 L720.2,1101.3 L715.7,1100.2 L711.2,1099.1 L706.8,1097.9 L702.6,1096.6 L698.6,1095.2 L694.8,1093.8 L691.3,1092.4 L688.2,1090.9 L685.4,1089.5 L683.0,1088.0 L681.0,1086.6 L679.4,1085.2" fill="none" stroke="#1a1a1a" stroke-width="1.2" stroke-linejoin="round" stroke-dasharray="2 2"/>
<path d="M756.2,1010.0 L748.8,1032.5 L745.0,1050.0" fill="none" stroke="#1a1a1a" stroke-width="1.6" stroke-linejoin="round" stroke-dasharray="2 2"/>
<path d="M810.0,970.0 L817.5,973.8 L821.2,970.0" fill="none" stroke="#1a1a1a" stroke-width="1.6" stroke-linejoin="round" stroke-dasharray="2 2"/>
<path d="M815.0,985.0 L822.5,990.0 L820.0,1000.0 L826.2,1002.5" fill="none" stroke="#1a1a1a" stroke-width="1.8" stroke-linejoin="round" stroke-dasharray="2 2"/>
<path d="M832.5,991.2 L843.8,985.0" fill="none" stroke="#1a1a1a" stroke-width="1.6" stroke-linejoin="round" stroke-dasharray="2 2"/>
<path d="M943.8,1053.8 L957.5,1050.0 L960.0,1060.0" fill="none" stroke="#1a1a1a" stroke-width="1.8" stroke-linejoin="round" stroke-dasharray="2 2"/>
<path d="M962.5,1051.2 L972.5,1055.0" fill="none" stroke="#1a1a1a" stroke-width="1.6" stroke-linejoin="round" stroke-dasharray="2 2"/>
<path d="M980.0,1047.5 L990.0,1053.8 L997.5,1057.5 L990.0,1060.0" fill="none" stroke="#1a1a1a" stroke-width="1.8" stroke-linejoin="round" stroke-dasharray="2 2"/>
<path d="M985.0,1067.5 L987.5,1085.0" fill="none" stroke="#1a1a1a" stroke-width="1.8" stroke-linejoin="round" stroke-dasharray="2 2"/>
<path d="M1015.0,1077.5 L1027.5,1072.5 L1032.5,1080.0 L1022.5,1086.2" fill="none" stroke="#1a1a1a" stroke-width="1.8" stroke-linejoin="round" stroke-dasharray="2 2"/>
<path d="M1035.0,1080.0 L1047.5,1072.5 L1057.5,1075.0" fill="none" stroke="#1a1a1a" stroke-width="1.4" stroke-linejoin="round" stroke-dasharray="2 2"/>
<path d="M1075.0,1075.0 L1082.5,1085.0 L1092.5,1088.8" fill="none" stroke="#1a1a1a" stroke-width="1.8" stroke-linejoin="round" stroke-dasharray="2 2"/>
<path d="M1215.0,1000.0 L1225.0,996.2 L1235.0,1000.0" fill="none" stroke="#1a1a1a" stroke-width="1.8" stroke-linejoin="round" stroke-dasharray="2 2"/>
<path d="M1217.5,1015.0 L1227.5,1020.0" fill="none" stroke="#1a1a1a" stroke-width="1.8" stroke-linejoin="round" stroke-dasharray="2 2"/>
<path d="M1192.5,1065.0 L1202.5,1071.2" fill="none" stroke="#1a1a1a" stroke-width="2" stroke-linejoin="round" stroke-dasharray="2 2"/>
<path d="M665.0,1073.0 L670.0,1085.5 L677.5,1090.5" fill="none" stroke="#1a1a1a" stroke-width="1.6" stroke-linejoin="round" stroke-dasharray="2 2"/>
<path d="M670.0,1108.0 L677.5,1123.0 L672.5,1133.0" fill="none" stroke="#1a1a1a" stroke-width="1.4" stroke-linejoin="round" stroke-dasharray="2 2"/>
<path d="M682.5,1140.5 L686.2,1153.0" fill="none" stroke="#1a1a1a" stroke-width="1.8" stroke-linejoin="round" stroke-dasharray="2 2"/>
<path d="M635.0,1165.5 L641.2,1175.5" fill="none" stroke="#1a1a1a" stroke-width="2.2" stroke-linejoin="round" stroke-dasharray="2 2"/>
<path d="M837.5,1283.0 L842.5,1293.0 L855.0,1298.0 L860.0,1305.5" fill="none" stroke="#1a1a1a" stroke-width="1.6" stroke-linejoin="round" stroke-dasharray="2 2"/>
<path d="M1271.9,732.6 L1283.9,729.6 L1285.4,735.6" fill="none" stroke="#1a1a1a" stroke-width="1.4" stroke-linejoin="round" stroke-dasharray="2 2"/>
<path d="M1249.3,812.3 L1261.4,815.3 L1259.8,824.4 L1252.3,828.9" fill="none" stroke="#1a1a1a" stroke-width="1.4" stroke-linejoin="round" stroke-dasharray="2 2"/>
<path d="M1273.4,849.9 L1279.4,858.9 L1270.4,860.5" fill="none" stroke="#1a1a1a" stroke-width="1.6" stroke-linejoin="round" stroke-dasharray="2 2"/>
<path d="M1204.2,855.9 L1216.2,851.4 L1204.2,866.5 L1219.2,872.5" fill="none" stroke="#1a1a1a" stroke-width="1.2" stroke-linejoin="round" stroke-dasharray="2 2"/>
<line x1="995.5" y1="92" x2="1052.5" y2="662" stroke="#000" stroke-width="1.1" stroke-dasharray="29 6 5 5"/>
<line x1="1165.5" y1="171" x2="1222.5" y2="740" stroke="#000" stroke-width="1.1" stroke-dasharray="29 6 5 5"/>
<line x1="744.2" y1="274" x2="814.2" y2="964" stroke="#000" stroke-width="1.1" stroke-dasharray="29 6 5 5"/>
<line x1="916.5" y1="369" x2="984" y2="1040" stroke="#000" stroke-width="1.1" stroke-dasharray="29 6 5 5"/>
<path d="M762.5,438.8 L987.5,275.0 L990.0,273.5 L994.0,272.6 L1000.0,274.5 L1005.0,277.0 L1011.0,277.5 L1017.0,275.0 L1022.5,271.5 L1031.0,268.3 L1040.0,271.0 L1175.0,335.0 L1180.0,338.8 L1186.0,341.0 L1196.0,347.0 L1201.0,358.0 L1200.0,372.0 L1193.0,378.0 L1186.0,377.0 L1187.5,390.0 L1190.0,419.5 L1196.0,417.5 L1202.5,417.0 L1205.5,423.0 L1206.0,437.5 L1200.0,445.0 L1190.0,452.5 L1187.5,453.0 L966.0,603.0 L957.5,615.0 L950.0,622.0 L943.8,626.2 L935.0,625.5 L772.5,547.5 L762.5,546.0 L757.5,541.0 L757.0,527.5 L760.0,523.0 L765.0,521.0 L768.0,518.0 L763.8,442.5 Z" fill="#5fbb28" stroke="#000" stroke-width="2.6" stroke-linejoin="round" stroke-linecap="round" />
<path d="M961.0,541.5 L1176.0,383.0 L1183.5,441.0 L968.5,600.5 Z" fill="#5fbb28" stroke="#000" stroke-width="2.0" stroke-linejoin="round" stroke-linecap="round" />
<path d="M964.5,544.5 L1173.5,389.0 L1180.0,438.5 L971.5,595.5 Z" fill="none" stroke="#000" stroke-width="0.8" stroke-linejoin="round" stroke-linecap="round" />
<path d="M962.5,537.5 L1180,381" fill="none" stroke="#000" stroke-width="1.6" stroke-linejoin="round" stroke-linecap="round" />
<path d="M960,532.5 L1051,471 L1051.5,477 Q1053,481.5 1057,480.5 L1063,478.5 Q1069,474 1070,465 L1070,457.5 L1182.5,375" fill="none" stroke="#000" stroke-width="2.2" stroke-linejoin="round" stroke-linecap="round" />
<path d="M963,518.5 L1175,369 L1180,339" fill="none" stroke="#000" stroke-width="2.6" stroke-linejoin="round" stroke-linecap="round" />
<path d="M1182.5,375 L1180,339" fill="none" stroke="#000" stroke-width="1.5" stroke-linejoin="round" stroke-linecap="round" />
<path d="M910.5,537.5 L917.5,606" fill="none" stroke="#000" stroke-width="2.2" stroke-linejoin="round" stroke-linecap="round" />
<path d="M960,536 L966,601" fill="none" stroke="#000" stroke-width="2.2" stroke-linejoin="round" stroke-linecap="round" />
<path d="M921.5,538 L927,609 M948,535.5 L954,607 M957.5,537.5 L963.5,603" fill="none" stroke="#000" stroke-width="1.2" stroke-linejoin="round" stroke-linecap="round" />
<path d="M925,533.0 L931,610.0" fill="none" stroke="#1c4a05" stroke-width="0.7" stroke-linejoin="round" stroke-linecap="round" />
<path d="M932,533.6 L938,612.2" fill="none" stroke="#1c4a05" stroke-width="0.7" stroke-linejoin="round" stroke-linecap="round" />
<path d="M940,534.2 L946,614.4" fill="none" stroke="#1c4a05" stroke-width="0.7" stroke-linejoin="round" stroke-linecap="round" />
<path d="M949,534.8 L954.5,616.6" fill="none" stroke="#1c4a05" stroke-width="0.7" stroke-linejoin="round" stroke-linecap="round" />
<ellipse cx="941.5" cy="606" rx="7.5" ry="4.2" fill="#5fbb28" stroke="#000" stroke-width="1.6" />
<ellipse cx="941.5" cy="606" rx="4.2" ry="2.2" fill="#5fbb28" stroke="#000" stroke-width="0.8" />
<path d="M918.8,606 Q925,612 934,612.5 L948,611 Q958,608 966,601" fill="none" stroke="#000" stroke-width="1.6" stroke-linejoin="round" stroke-linecap="round" />
<path d="M777,540.5 L930,615.5 Q938,618.5 946,616" fill="none" stroke="#000" stroke-width="1.4" stroke-linejoin="round" stroke-linecap="round" />
<path d="M757,527.5 Q757.5,523 765,521 L777.8,520 L792,520.5" fill="none" stroke="#000" stroke-width="1.6" stroke-linejoin="round" stroke-linecap="round" />
<ellipse cx="770.5" cy="529" rx="6.8" ry="4.2" fill="#5fbb28" stroke="#000" stroke-width="1.6" />
<path d="M762.5,546 L762,532 M772.5,547.5 L773,538" fill="none" stroke="#000" stroke-width="1.1" stroke-linejoin="round" stroke-linecap="round" />
<path d="M771.8,444 L777.8,520" fill="none" stroke="#000" stroke-width="1.6" stroke-linejoin="round" stroke-linecap="round" />
<path d="M766,443.5 L770,519" fill="none" stroke="#000" stroke-width="0.9" stroke-linejoin="round" stroke-linecap="round" />
<path d="M763,443.5 L787.5,446 L843,470 Q849,473 846.5,477 L831,489.5 L831,494 L908.5,527 Q916,529.5 920,526.5 Q926,521 933,520.5 L945,522 Q952,523.5 957,520.5 L963,518.5" fill="none" stroke="#000" stroke-width="2.4" stroke-linejoin="round" stroke-linecap="round" />
<path d="M764.5,453.5 L786,452.5 L835,474" fill="none" stroke="#000" stroke-width="1.8" stroke-linejoin="round" stroke-linecap="round" />
<path d="M832,500 L910,538 L919,538.5 Q922.5,537 924,534.5 Q928,531 934,531 L940,531.5 L947.5,535 Q952,537.8 956.5,534 L959.5,532.5" fill="none" stroke="#000" stroke-width="2" stroke-linejoin="round" stroke-linecap="round" />
<path d="M838.9,479.8 L785,457 Q780,456.5 779.9,461 L778,474.2 L779,487.1 Q780.5,493 783.6,495.4 L791.9,500.5 L831.5,513.4" fill="none" stroke="#000" stroke-width="2.6" stroke-linejoin="round" stroke-linecap="round" />
<path d="M782.6,473.3 L831.5,493.6" fill="none" stroke="#000" stroke-width="2.2" stroke-linejoin="round" stroke-linecap="round" />
<path d="M782.6,473.3 L793.7,465 M782,485 L795,476 M786.5,493.5 L799,484.5" fill="none" stroke="#000" stroke-width="1" stroke-linejoin="round" stroke-linecap="round" />
<path d="M784.5,461.5 L834,482" fill="none" stroke="#0a2a04" stroke-width="1" stroke-linejoin="round" stroke-linecap="round" stroke-dasharray="3 1.5"/>
<path d="M795.6,481.6 L801.1,476.1 L806.6,476.1 L807.5,479.8 L814.0,479.8 L831.5,493.6 L831.5,502.8 L797.4,490.8 Z" fill="#000" stroke="#000" stroke-width="1" stroke-linejoin="round" stroke-linecap="round" />
<path d="M791.9,501 L793.7,531.4 Q794.5,537 798.3,538.8 L831.5,548.9" fill="none" stroke="#000" stroke-width="2.6" stroke-linejoin="round" stroke-linecap="round" />
<path d="M833.3,497 L836.1,545.2" fill="none" stroke="#000" stroke-width="2.2" stroke-linejoin="round" stroke-linecap="round" />
<path d="M797,506 L798.5,530 Q799.5,534 803,535 L831,543.5" fill="none" stroke="#000" stroke-width="1" stroke-linejoin="round" stroke-linecap="round" />
<path d="M802.9,515.7 L810.3,512.9 L815.8,518.5 L812.1,526.8 L804.8,525.9 Z" fill="#000" stroke="#000" stroke-width="1" stroke-linejoin="round" stroke-linecap="round" />
<path d="M810.3,527.7 L819.5,524.0 L831.5,529.5 L832.0,539.5 L812.1,532.3 Z" fill="#000" stroke="#000" stroke-width="1" stroke-linejoin="round" stroke-linecap="round" />
<path d="M814.0,511.1 L831.5,517.6 L831.5,522.0 L819.5,518.5 Z" fill="#000" stroke="#000" stroke-width="1" stroke-linejoin="round" stroke-linecap="round" />
<path d="M800,509 L812,505 M803,533 L812,527" fill="none" stroke="#000" stroke-width="1" stroke-linejoin="round" stroke-linecap="round" />
<g transform="translate(834.5 568.5)">
<path d="M4,-25 L20,-33.5 L24.5,-32 L37,-20 L38.5,-13 L37,-3 L31,2 L21,15 L4,16 Z" fill="#050505" stroke="#000" stroke-width="2" stroke-linejoin="round"/>
<path d="M22,-29 L33,-18" stroke="#5fbb28" stroke-width="1.2" fill="none"/>
<path d="M13,-17 L21,-6 M17,-19 L24,-9" stroke="#5fbb28" stroke-width="1.1" fill="none"/>
<ellipse cx="13" cy="-6" rx="10" ry="15" fill="#5fbb28" stroke="#000" stroke-width="2.6" transform="rotate(-22 13 -6)"/>
<ellipse cx="7" cy="-3" rx="11" ry="15.5" fill="#5fbb28" stroke="#000" stroke-width="2.8" transform="rotate(-22 7 -3)"/>
<ellipse cx="0" cy="0" rx="11.3" ry="15.5" fill="#5fbb28" stroke="#000" stroke-width="2.8" transform="rotate(-22 0 0)"/>
<ellipse cx="0.5" cy="1.5" rx="7.8" ry="11.5" fill="#000" stroke="#000" stroke-width="1" transform="rotate(-22 0.5 1.5)"/>
<ellipse cx="0.5" cy="2" rx="4.8" ry="8" fill="none" stroke="#5fbb28" stroke-width="1.3" transform="rotate(-22 0.5 2)"/>
<ellipse cx="0.8" cy="2.6" rx="1.6" ry="4" fill="none" stroke="#5fbb28" stroke-width="1" transform="rotate(-22 0.8 2.6)"/>
</g>
<g transform="translate(873.5 583.5)">
<path d="M4,-25 L20,-33.5 L24.5,-32 L37,-20 L38.5,-13 L37,-3 L31,2 L21,15 L4,16 Z" fill="#050505" stroke="#000" stroke-width="2" stroke-linejoin="round"/>
<path d="M22,-29 L33,-18" stroke="#5fbb28" stroke-width="1.2" fill="none"/>
<path d="M13,-17 L21,-6 M17,-19 L24,-9" stroke="#5fbb28" stroke-width="1.1" fill="none"/>
<ellipse cx="13" cy="-6" rx="10" ry="15" fill="#5fbb28" stroke="#000" stroke-width="2.6" transform="rotate(-22 13 -6)"/>
<ellipse cx="7" cy="-3" rx="11" ry="15.5" fill="#5fbb28" stroke="#000" stroke-width="2.8" transform="rotate(-22 7 -3)"/>
<ellipse cx="0" cy="0" rx="11.3" ry="15.5" fill="#5fbb28" stroke="#000" stroke-width="2.8" transform="rotate(-22 0 0)"/>
<ellipse cx="0.5" cy="1.5" rx="7.8" ry="11.5" fill="#000" stroke="#000" stroke-width="1" transform="rotate(-22 0.5 1.5)"/>
<ellipse cx="0.5" cy="2" rx="4.8" ry="8" fill="none" stroke="#5fbb28" stroke-width="1.3" transform="rotate(-22 0.5 2)"/>
<ellipse cx="0.8" cy="2.6" rx="1.6" ry="4" fill="none" stroke="#5fbb28" stroke-width="1" transform="rotate(-22 0.8 2.6)"/>
</g>
<ellipse cx="1042.5" cy="298.3" rx="23.4" ry="13.6" fill="#5fbb28" stroke="#000" stroke-width="3.4" transform="rotate(-4 1042.5 298.3)" />
<path d="M1024.1,302.3 A19.4,10.6 -4 0 0 1061.9,299.8" fill="none" stroke="#000" stroke-width="1"/>
<ellipse cx="1042.5" cy="298.0" rx="9.4" ry="6.2" fill="#000" stroke="#000" stroke-width="0.5" transform="rotate(-4 1042.5 298.0)" />
<ellipse cx="1039.3" cy="297.8" rx="2.4" ry="3.4" fill="#5fbb28" stroke="none" stroke-width="0" />
<ellipse cx="1045.1" cy="298.0" rx="2.6" ry="3.2" fill="#5fbb28" stroke="none" stroke-width="0" />
<ellipse cx="1044.7" cy="298.5" rx="1.1" ry="1.6" fill="#000" stroke="none" stroke-width="0" />
<ellipse cx="1090" cy="320.5" rx="23.4" ry="13.6" fill="#5fbb28" stroke="#000" stroke-width="3.4" transform="rotate(-4 1090 320.5)" />
<path d="M1071.6,324.5 A19.4,10.6 -4 0 0 1109.4,322.0" fill="none" stroke="#000" stroke-width="1"/>
<ellipse cx="1090" cy="320.2" rx="9.4" ry="6.2" fill="#000" stroke="#000" stroke-width="0.5" transform="rotate(-4 1090 320.2)" />
<ellipse cx="1086.8" cy="320.0" rx="2.4" ry="3.4" fill="#5fbb28" stroke="none" stroke-width="0" />
<ellipse cx="1092.6" cy="320.2" rx="2.6" ry="3.2" fill="#5fbb28" stroke="none" stroke-width="0" />
<ellipse cx="1092.2" cy="320.7" rx="1.1" ry="1.6" fill="#000" stroke="none" stroke-width="0" />
<ellipse cx="1137.8" cy="342" rx="23.4" ry="13.6" fill="#5fbb28" stroke="#000" stroke-width="3.4" transform="rotate(-4 1137.8 342)" />
<path d="M1119.4,346.0 A19.4,10.6 -4 0 0 1157.2,343.5" fill="none" stroke="#000" stroke-width="1"/>
<ellipse cx="1137.8" cy="341.7" rx="9.4" ry="6.2" fill="#000" stroke="#000" stroke-width="0.5" transform="rotate(-4 1137.8 341.7)" />
<ellipse cx="1134.6" cy="341.5" rx="2.4" ry="3.4" fill="#5fbb28" stroke="none" stroke-width="0" />
<ellipse cx="1140.3999999999999" cy="341.7" rx="2.6" ry="3.2" fill="#5fbb28" stroke="none" stroke-width="0" />
<ellipse cx="1140.0" cy="342.2" rx="1.1" ry="1.6" fill="#000" stroke="none" stroke-width="0" />
<ellipse cx="875" cy="486.5" rx="23.4" ry="13.6" fill="#5fbb28" stroke="#000" stroke-width="3.4" transform="rotate(-4 875 486.5)" />
<path d="M856.6,490.5 A19.4,10.6 -4 0 0 894.4,488.0" fill="none" stroke="#000" stroke-width="1"/>
<ellipse cx="875" cy="486.2" rx="9.4" ry="6.2" fill="#000" stroke="#000" stroke-width="0.5" transform="rotate(-4 875 486.2)" />
<ellipse cx="871.8" cy="486.0" rx="2.4" ry="3.4" fill="#5fbb28" stroke="none" stroke-width="0" />
<ellipse cx="877.6" cy="486.2" rx="2.6" ry="3.2" fill="#5fbb28" stroke="none" stroke-width="0" />
<ellipse cx="877.2" cy="486.7" rx="1.1" ry="1.6" fill="#000" stroke="none" stroke-width="0" />
<ellipse cx="912.5" cy="505.5" rx="23.4" ry="13.6" fill="#5fbb28" stroke="#000" stroke-width="3.4" transform="rotate(-4 912.5 505.5)" />
<path d="M894.1,509.5 A19.4,10.6 -4 0 0 931.9,507.0" fill="none" stroke="#000" stroke-width="1"/>
<ellipse cx="912.5" cy="505.2" rx="9.4" ry="6.2" fill="#000" stroke="#000" stroke-width="0.5" transform="rotate(-4 912.5 505.2)" />
<ellipse cx="909.3" cy="505.0" rx="2.4" ry="3.4" fill="#5fbb28" stroke="none" stroke-width="0" />
<ellipse cx="915.1" cy="505.2" rx="2.6" ry="3.2" fill="#5fbb28" stroke="none" stroke-width="0" />
<ellipse cx="914.7" cy="505.7" rx="1.1" ry="1.6" fill="#000" stroke="none" stroke-width="0" />
<ellipse cx="994.5" cy="275.8" rx="5.6" ry="3.8" fill="#000" stroke="#000" stroke-width="1.0" />
<ellipse cx="993.1" cy="275.8" rx="1.0" ry="0.8" fill="#5fbb28" stroke="none" stroke-width="0" />
<ellipse cx="996.0" cy="275.6" rx="1.0" ry="0.8" fill="#5fbb28" stroke="none" stroke-width="0" />
<ellipse cx="1088.8" cy="293" rx="5.6" ry="3.8" fill="#000" stroke="#000" stroke-width="1.0" />
<ellipse cx="1087.3999999999999" cy="293" rx="1.0" ry="0.8" fill="#5fbb28" stroke="none" stroke-width="0" />
<ellipse cx="1090.3" cy="292.8" rx="1.0" ry="0.8" fill="#5fbb28" stroke="none" stroke-width="0" />
<ellipse cx="1136" cy="315" rx="5.6" ry="3.8" fill="#000" stroke="#000" stroke-width="1.0" />
<ellipse cx="1134.6" cy="315" rx="1.0" ry="0.8" fill="#5fbb28" stroke="none" stroke-width="0" />
<ellipse cx="1137.5" cy="314.8" rx="1.0" ry="0.8" fill="#5fbb28" stroke="none" stroke-width="0" />
<ellipse cx="1176" cy="358.8" rx="5.6" ry="3.8" fill="#000" stroke="#000" stroke-width="1.0" />
<ellipse cx="1174.6" cy="358.8" rx="1.0" ry="0.8" fill="#5fbb28" stroke="none" stroke-width="0" />
<ellipse cx="1177.5" cy="358.6" rx="1.0" ry="0.8" fill="#5fbb28" stroke="none" stroke-width="0" />
<ellipse cx="867.5" cy="368" rx="5.6" ry="3.8" fill="#000" stroke="#000" stroke-width="1.0" />
<ellipse cx="866.1" cy="368" rx="1.0" ry="0.8" fill="#5fbb28" stroke="none" stroke-width="0" />
<ellipse cx="869.0" cy="367.8" rx="1.0" ry="0.8" fill="#5fbb28" stroke="none" stroke-width="0" />
<ellipse cx="769.5" cy="438.3" rx="5.6" ry="3.8" fill="#000" stroke="#000" stroke-width="1.0" />
<ellipse cx="768.1" cy="438.3" rx="1.0" ry="0.8" fill="#5fbb28" stroke="none" stroke-width="0" />
<ellipse cx="771.0" cy="438.1" rx="1.0" ry="0.8" fill="#5fbb28" stroke="none" stroke-width="0" />
<ellipse cx="1055.5" cy="445.5" rx="5.6" ry="3.8" fill="#000" stroke="#000" stroke-width="1.0" />
<ellipse cx="1054.1" cy="445.5" rx="1.0" ry="0.8" fill="#5fbb28" stroke="none" stroke-width="0" />
<ellipse cx="1057.0" cy="445.3" rx="1.0" ry="0.8" fill="#5fbb28" stroke="none" stroke-width="0" />
<ellipse cx="951.7" cy="521.6" rx="7.3" ry="4.1" fill="#000" stroke="#000" stroke-width="0.5" />
<path d="M1180,340 L1186,341 Q1197,346 1201,358 L1200,372 Q1196,379 1188,377.5 L1183,372 Z" fill="#5fbb28" stroke="#000" stroke-width="2" stroke-linejoin="round" stroke-linecap="round" />
<ellipse cx="1192.5" cy="361" rx="5.5" ry="16.5" fill="#5fbb28" stroke="#000" stroke-width="2.6" transform="rotate(-22 1192.5 361)" />
<ellipse cx="1189" cy="360" rx="4.2" ry="15.5" fill="#5fbb28" stroke="#000" stroke-width="2.4" transform="rotate(-22 1189 360)" />
<ellipse cx="1186" cy="359.5" rx="3.2" ry="14" fill="#5fbb28" stroke="#000" stroke-width="2.2" transform="rotate(-20 1186 359.5)" />
<ellipse cx="1176.5" cy="348" rx="3" ry="5.6" fill="#5fbb28" stroke="#000" stroke-width="2" transform="rotate(25 1176.5 348)" />
<ellipse cx="1176.5" cy="359.5" rx="4.2" ry="2.6" fill="#5fbb28" stroke="#000" stroke-width="2" transform="rotate(-10 1176.5 359.5)" />
<path d="M1180.5,343 L1182,372" fill="none" stroke="#000" stroke-width="2.6" stroke-linejoin="round" stroke-linecap="round" />
<path d="M1184,377 L1187.5,418 M1187.5,390 L1190,452" fill="none" stroke="#000" stroke-width="1.5" stroke-linejoin="round" stroke-linecap="round" />
<path d="M1188.6,415 L1201.7,418.6 Q1205.4,420.5 1205.6,424.5 L1206,438.6" fill="none" stroke="#000" stroke-width="2.2" stroke-linejoin="round" stroke-linecap="round" />
<path d="M1190.5,436.5 L1205.4,423.6" fill="none" stroke="#000" stroke-width="1.6" stroke-linejoin="round" stroke-linecap="round" />
<path d="M1189.8,423.2 L1198.4,424.8 L1190.6,435 Z" fill="#5fbb28" stroke="#000" stroke-width="2" stroke-linejoin="round" stroke-linecap="round" />
<path d="M1193.5,437 L1193.8,449 M1197,434.5 L1197.3,446.5" fill="none" stroke="#000" stroke-width="0.8" stroke-linejoin="round" stroke-linecap="round" />
<path d="M1181,365 L1184.5,392 L1188.8,437" fill="none" stroke="#000" stroke-width="3.4" stroke-linejoin="round" stroke-linecap="round" />
<path d="M1184.5,380 L1187,417" fill="none" stroke="#222" stroke-width="1.2" stroke-linejoin="round" stroke-linecap="round" stroke-dasharray="6 3"/>
<line x1="1013" y1="277" x2="1041" y2="560" stroke="#000" stroke-width="1.0" stroke-dasharray="29 6 5 5"/>
<line x1="1184" y1="343" x2="1190" y2="420" stroke="#000" stroke-width="1.0" stroke-dasharray="29 6 5 5"/>
<line x1="919.5" y1="395" x2="942" y2="620" stroke="#000" stroke-width="1.0" stroke-dasharray="29 6 5 5"/>
<line x1="761.5" y1="440" x2="772" y2="548" stroke="#000" stroke-width="1.0" stroke-dasharray="29 6 5 5"/>
<path d="M886.2,210.5 L890.0,211.0 L907.5,220.0 L923.8,233.5 L924.0,238.0 L931.0,243.8 L935.0,240.0 L941.0,231.0 L950.0,223.8 L962.5,218.8 L982.5,215.5 L993.8,213.8 L1000.0,215.5 L1003.8,221.0 L1006.0,228.8 L1007.8,236.3 L1010.3,236.5 L1012.8,237.0 L1015.2,237.8 L1017.4,238.8 L1019.3,240.0 L1020.9,241.4 L1022.2,243.0 L1023.0,244.7 L1023.5,246.4 L1023.5,248.0 L1023.0,249.7 L1022.1,251.2 L1020.9,252.5 L1019.2,253.7 L1017.3,254.6 L1015.1,255.2 L1012.7,255.6 L1010.2,255.7 L1007.7,255.5 L1005.2,255.0 L1002.8,254.2 L1000.6,253.2 L990.0,250.0 L986.2,246.2 L987.5,242.5 L975.0,247.5 L955.0,251.0 L943.8,256.0 L935.0,265.0 L925.0,277.5 L915.0,291.0 L907.5,298.8 L902.5,300.0 L897.5,296.0 L892.5,295.0 L886.0,297.5 L875.0,291.0 L860.0,281.0 L850.0,272.5 L853.8,272.5 L872.5,280.0 L876.0,277.5 L880.0,281.0 L892.5,282.5 L897.5,276.2 L907.5,258.8 L913.8,243.8 L912.5,241.0 L902.5,237.5 L900.0,233.8 L903.8,226.0 L897.5,220.0 Z" fill="#5fbb28" stroke="#000" stroke-width="2.4" stroke-linejoin="round" stroke-linecap="round" />
<path d="M930,244.5 L900,295 M925,243 L895.5,292.5 M913.8,243.8 L931,244" fill="none" stroke="#000" stroke-width="1" stroke-linejoin="round" stroke-linecap="round" />
<path d="M987.5,242.5 L1006,233 M990,250 L1008,239" fill="none" stroke="#000" stroke-width="1" stroke-linejoin="round" stroke-linecap="round" />
<path d="M886.2,210.5 L903.8,226 L921,234 M850,272.5 L876,286 L892.5,288" fill="none" stroke="#000" stroke-width="1.2" stroke-linejoin="round" stroke-linecap="round" />
<path d="M886,210 L895,213.5 L908.5,220.5 L923.3,232.5 L923.6,237" fill="none" stroke="#000" stroke-width="4.2" stroke-linejoin="round" stroke-linecap="round" />
<path d="M850.8,272.8 L859,279.5 L870.5,287.5 L886.5,296" fill="none" stroke="#000" stroke-width="4.6" stroke-linejoin="round" stroke-linecap="round" />
<ellipse cx="1010" cy="246.5" rx="5.8" ry="3.6" fill="#fff" stroke="#000" stroke-width="2" />
<path d="M671.3,369.6 L674.2,367.5 L687.7,361.1 L690.5,359.0 L696.2,357.4 L709.6,357.9 L728.1,358.7 L730.9,359.7 L733.8,369.6 L734.5,373.9 L740.1,376.0 L741.6,378.9 L738.0,381.7 L738.7,384.5 L741.6,385.6 L760.7,394.5 L762.1,397.3 L760.7,400.1 L745.1,406.5 L743.0,410.1 L736.6,410.4 L681.3,385.2 L680.2,381.7 L683.4,378.9 L690.5,377.4 L691.2,376.0 L683.4,373.9 L672.8,373.9 Z" fill="#5fbb28" stroke="#000" stroke-width="3" stroke-linejoin="round" stroke-linecap="round" />
<path d="M684.1,371.2 L705,361.3 L733.8,373" fill="none" stroke="#000" stroke-width="1" stroke-linejoin="round" stroke-linecap="round" />
<path d="M707.5,372.8 L716.7,368.9 L731.6,376.7 L722.4,381.7 Z" fill="#000" stroke="#000" stroke-width="1" stroke-linejoin="round" stroke-linecap="round" />
<path d="M712.8,376.0 L718.2,373.5 L726.7,377.8 L721.7,380.3 Z" fill="#fff" stroke="#000" stroke-width="0.5" stroke-linejoin="round" stroke-linecap="round" />
<path d="M691.6,381.7 L701.8,376.7 L716.7,384.2 L706.8,389.9 Z" fill="#000" stroke="#000" stroke-width="1" stroke-linejoin="round" stroke-linecap="round" />
<path d="M697.2,383.1 L701.8,381.0 L711.1,385.6 L706.5,387.7 Z" fill="#fff" stroke="#000" stroke-width="0.5" stroke-linejoin="round" stroke-linecap="round" />
<ellipse cx="705.4" cy="366.1" rx="5.1" ry="3.1" fill="#000" stroke="#000" stroke-width="0.5" />
<ellipse cx="718.9" cy="392.7" rx="5.4" ry="3.1" fill="#000" stroke="#000" stroke-width="0.5" />
<path d="M731.0,360.0 L734.0,370.0 L752.5,372.6 L747.0,369.5 L733.0,362.6 Z" fill="#5fbb28" stroke="#000" stroke-width="1.5" stroke-linejoin="round" stroke-linecap="round" />
<path d="M709.6,340.6 L720.3,331.3 L724.5,331.7 L739.8,343.0 L743.7,344.1 L749.4,342.1 L755.0,339.0 L759.5,338.8 L761.3,341.8 L759.6,344.7 L754.5,348.4 L755.6,350.9 L762.1,351.6 L770.6,350.9 L773.7,353.7 L772.8,357.2 L752.9,372.1 L747.6,372.3 L733.0,362.6 L730.9,359.4 L728.1,356.2 L709.6,342.7 Z" fill="#5fbb28" stroke="#000" stroke-width="3" stroke-linejoin="round" stroke-linecap="round" />
<path d="M729.5,351.9 L739.1,344.5" fill="none" stroke="#000" stroke-width="1.4" stroke-linejoin="round" stroke-linecap="round" />
<path d="M719.6,361.1 L745.1,368.9 M733.8,369.6 L752.2,372.8" fill="none" stroke="#000" stroke-width="1.2" stroke-linejoin="round" stroke-linecap="round" />
<ellipse cx="752.2" cy="359.4" rx="7.2" ry="4.8" fill="#000" stroke="#000" stroke-width="0.5" />
<ellipse cx="752.6" cy="360.4" rx="4.3" ry="1.8" fill="#fff" stroke="none" stroke-width="0" />
<path d="M720.3,341.6 L727.4,338.4 L730.9,342.7 L724.5,346.6 Z" fill="#000" stroke="#000" stroke-width="0.8" stroke-linejoin="round" stroke-linecap="round" />
<path d="M724,343.8 L727,341.6" fill="none" stroke="#fff" stroke-width="1" stroke-linejoin="round" stroke-linecap="round" />
<path d="M1012.5,596.0 L1015.0,592.5 L1047.5,570.0 L1053.8,568.8 L1061.6,566.3 L1061.9,564.4 L1062.6,562.4 L1063.6,560.3 L1064.8,558.4 L1066.3,556.5 L1068.0,554.9 L1069.8,553.5 L1071.6,552.4 L1073.5,551.7 L1075.3,551.3 L1076.9,551.3 L1078.4,551.6 L1079.6,552.3 L1080.5,553.4 L1081.1,554.8 L1081.4,556.4 L1081.3,558.2 L1080.9,560.2 L1080.2,562.2 L1079.1,564.2 L1077.8,566.2 L1076.2,567.9 L1074.5,569.5 L1072.7,570.8 L1070.8,571.8 L1069.0,572.5 L1067.5,573.8 L1235.0,650.6 L1239.0,648.6 L1239.0,645.9 L1239.2,643.2 L1239.7,640.6 L1240.4,638.0 L1241.3,635.7 L1242.3,633.6 L1243.5,631.9 L1244.7,630.7 L1246.0,629.8 L1247.2,629.5 L1248.4,629.7 L1249.6,630.4 L1250.5,631.5 L1251.4,633.1 L1252.0,635.0 L1252.4,637.3 L1252.6,639.8 L1252.6,642.4 L1252.3,645.1 L1251.8,647.7 L1251.1,650.3 L1250.2,652.6 L1249.2,654.6 L1248.0,656.2 L1246.8,657.5 L1245.5,658.2 L1244.2,658.5 L1243.0,658.3 L1241.9,657.5 L1240.9,656.3 L1239.8,654.4 L1210.0,672.5 L1202.5,677.5 L1206.2,686.2 L1205.0,693.8 L1168.8,691.2 L1165.0,707.5 L1166.2,735.0 L1157.5,736.2 L1150.0,730.0 L1143.8,717.5 L1133.8,711.2 L1105.0,702.5 L1097.5,708.8 L1087.5,702.5 L1085.0,687.5 L1075.0,662.5 L1055.0,637.5 L1045.0,625.0 L1017.5,607.5 L1013.8,600.0 Z" fill="#5fbb28" stroke="#000" stroke-width="2.8" stroke-linejoin="round" stroke-linecap="round" />
<path d="M1014,598.5 L1204,679.5 M1016.5,604.5 L1203,686" fill="none" stroke="#000" stroke-width="1" stroke-linejoin="round" stroke-linecap="round" />
<path d="M1235,650.6 L1239.8,654.4" fill="none" stroke="#000" stroke-width="1.4" stroke-linejoin="round" stroke-linecap="round" />
<path d="M1051.0,595.5 L1065.0,586.0 L1100.0,617.5 L1095.0,620.0 Z" fill="#fff" stroke="#000" stroke-width="2.4" stroke-linejoin="round" stroke-linecap="round" />
<path d="M1097.5,601.0 L1107.5,602.0 L1170.0,632.5 L1165.0,636.0 L1122.5,622.5 L1115.0,617.5 L1100.0,607.5 Z" fill="#fff" stroke="#000" stroke-width="2.4" stroke-linejoin="round" stroke-linecap="round" />
<path d="M1137.5,637.5 L1202.5,648.8 L1187.5,660.0 L1182.5,658.8 L1140.0,641.0 Z" fill="#fff" stroke="#000" stroke-width="2.4" stroke-linejoin="round" stroke-linecap="round" />
<path d="M1043.8,618.8 L1055.0,621.2 L1092.5,645.0 L1082.5,656.2 L1072.5,642.5 L1060.0,627.5 Z" fill="#fff" stroke="#000" stroke-width="2.4" stroke-linejoin="round" stroke-linecap="round" />
<path d="M1046,620.5 Q1062,632 1074,652" fill="none" stroke="#000" stroke-width="3.2" stroke-linejoin="round" stroke-linecap="round" />
<path d="M1083.8,662.5 L1100.0,650.0 L1112.5,692.5 L1097.5,685.0 Z" fill="#fff" stroke="#000" stroke-width="2.4" stroke-linejoin="round" stroke-linecap="round" />
<path d="M1121.0,660.0 L1126.0,658.8 L1175.0,678.8 L1161.0,681.0 L1155.0,690.0 L1155.0,710.0 L1135.0,700.0 Z" fill="#fff" stroke="#000" stroke-width="2.4" stroke-linejoin="round" stroke-linecap="round" />
<path d="M1128.8,659.5 L1153.8,687.5" fill="none" stroke="#000" stroke-width="3.4" stroke-linejoin="round" stroke-linecap="round" />
<path d="M1121,660 L1135,700" fill="none" stroke="#000" stroke-width="3.2" stroke-linejoin="round" stroke-linecap="round" />
<ellipse cx="1042" cy="582.8" rx="7" ry="4.3" fill="#fff" stroke="#000" stroke-width="1.6" />
<ellipse cx="1212.5" cy="661.2" rx="7" ry="4.2" fill="#fff" stroke="#000" stroke-width="1.6" transform="rotate(-15 1212.5 661.2)" />
<ellipse cx="1117.5" cy="675" rx="3.4" ry="4.2" fill="#000" stroke="#000" stroke-width="1.4" transform="rotate(-25 1117.5 675)" />
<ellipse cx="1117.5" cy="675" rx="1.0" ry="1.6" fill="#5fbb28" stroke="none" stroke-width="0" transform="rotate(-25 1117.5 675)" />
<ellipse cx="1092.5" cy="697.5" rx="3.4" ry="4.2" fill="#000" stroke="#000" stroke-width="1.4" transform="rotate(-25 1092.5 697.5)" />
<ellipse cx="1092.5" cy="697.5" rx="1.0" ry="1.6" fill="#5fbb28" stroke="none" stroke-width="0" transform="rotate(-25 1092.5 697.5)" />
<ellipse cx="1157" cy="726.2" rx="3.4" ry="4.2" fill="#000" stroke="#000" stroke-width="1.4" transform="rotate(-25 1157 726.2)" />
<ellipse cx="1157" cy="726.2" rx="1.0" ry="1.6" fill="#5fbb28" stroke="none" stroke-width="0" transform="rotate(-25 1157 726.2)" />
<ellipse cx="1073.8" cy="562.7" rx="3.6" ry="4.6" fill="#000" stroke="#000" stroke-width="1.6" transform="rotate(40 1073.8 562.7)" />
<ellipse cx="1246.2" cy="641.5" rx="2.8" ry="4.8" fill="#000" stroke="#000" stroke-width="1.6" transform="rotate(10 1246.2 641.5)" />
<ellipse cx="1246.4" cy="641.5" rx="0.8" ry="1.6" fill="#5fbb28" stroke="none" stroke-width="0" transform="rotate(10 1246.4 641.5)" />
<path d="M1084.5,663.5 L1092,677 L1098,685" fill="none" stroke="#000" stroke-width="4" stroke-linejoin="round" stroke-linecap="round" />
<path d="M1097.5,685 L1112,691.5" fill="none" stroke="#000" stroke-width="3.2" stroke-linejoin="round" stroke-linecap="round" />
<line x1="1209.1" y1="601" x2="1214.3" y2="652" stroke="#111" stroke-width="0.9" />
<line x1="1041.5" y1="572" x2="1042.3" y2="580" stroke="#111" stroke-width="0.9" />
<line x1="1044.5" y1="598" x2="1048.2" y2="630" stroke="#123a08" stroke-width="0.8" />
<g transform="translate(1052.5 666.2)">
<path d="M-10,3 L-9.5,10 L-4,14.5 L5,14.5 L10.5,10 L11,3 Z" fill="#5fbb28" stroke="#000" stroke-width="2" stroke-linejoin="round"/>
<path d="M-4,6 L-4,14.5 M5,6 L5,14.5" stroke="#000" stroke-width="1.1"/>
<ellipse cx="0" cy="0" rx="12.4" ry="7" fill="#5fbb28" stroke="#000" stroke-width="2.4"/>
<ellipse cx="0.3" cy="-0.3" rx="7.3" ry="3.9" fill="#5fbb28" stroke="#000" stroke-width="2.4"/>
<ellipse cx="0.3" cy="-0.1" rx="3.4" ry="1.6" fill="#5fbb28" stroke="#063" stroke-width="0.9"/>
</g>
<g transform="translate(1223.2 744.5)">
<path d="M-10,3 L-9.5,10 L-4,14.5 L5,14.5 L10.5,10 L11,3 Z" fill="#fff" stroke="#000" stroke-width="2" stroke-linejoin="round"/>
<path d="M-4,6 L-4,14.5 M5,6 L5,14.5" stroke="#000" stroke-width="1.1"/>
<ellipse cx="0" cy="0" rx="12.4" ry="7" fill="#5fbb28" stroke="#000" stroke-width="2.4"/>
<ellipse cx="0.3" cy="-0.3" rx="7.3" ry="3.9" fill="#5fbb28" stroke="#000" stroke-width="2.4"/>
<ellipse cx="0.3" cy="-0.1" rx="3.4" ry="1.6" fill="#5fbb28" stroke="#063" stroke-width="0.9"/>
</g>
<g transform="translate(989.9 42.05) rotate(-5.4)">
<path d="M-6.1,9.8 L-6.1,47.599999999999994 A6.1,3.0 0 0 0 6.1,47.599999999999994 L6.1,9.8 Z" fill="#5fbb28" stroke="#000" stroke-width="2.5" stroke-linejoin="round"/>
<path d="M-10.4,0 L-10.4,9.8 A10.4,5.5 0 0 0 10.4,9.8 L10.4,0 Z" fill="#5fbb28" stroke="#000" stroke-width="2.5" stroke-linejoin="round"/>
<ellipse cx="0" cy="0" rx="10.4" ry="5.5" fill="#5fbb28" stroke="#000" stroke-width="2.5"/>
<ellipse cx="0.2" cy="-0.2" rx="8.3" ry="4.4" fill="#000"/>
<ellipse cx="-1.6" cy="0.6" rx="2.2" ry="1.1" fill="#5fbb28"/>
<ellipse cx="3.2" cy="0.3" rx="1" ry="0.9" fill="#5fbb28"/>
</g>
<g transform="translate(739.6 222.75) rotate(-5.4)">
<path d="M-6.1,9.8 L-6.1,47.599999999999994 A6.1,3.0 0 0 0 6.1,47.599999999999994 L6.1,9.8 Z" fill="#5fbb28" stroke="#000" stroke-width="2.5" stroke-linejoin="round"/>
<path d="M-10.4,0 L-10.4,9.8 A10.4,5.5 0 0 0 10.4,9.8 L10.4,0 Z" fill="#5fbb28" stroke="#000" stroke-width="2.5" stroke-linejoin="round"/>
<ellipse cx="0" cy="0" rx="10.4" ry="5.5" fill="#5fbb28" stroke="#000" stroke-width="2.5"/>
<ellipse cx="0.2" cy="-0.2" rx="8.3" ry="4.4" fill="#000"/>
<ellipse cx="-1.6" cy="0.6" rx="2.2" ry="1.1" fill="#5fbb28"/>
<ellipse cx="3.2" cy="0.3" rx="1" ry="0.9" fill="#5fbb28"/>
</g>
<g transform="translate(1160.9 121.25) rotate(-5.4)">
<path d="M-6.1,9.8 L-6.1,47.599999999999994 A6.1,3.0 0 0 0 6.1,47.599999999999994 L6.1,9.8 Z" fill="#5fbb28" stroke="#000" stroke-width="2.5" stroke-linejoin="round"/>
<path d="M-10.4,0 L-10.4,9.8 A10.4,5.5 0 0 0 10.4,9.8 L10.4,0 Z" fill="#5fbb28" stroke="#000" stroke-width="2.5" stroke-linejoin="round"/>
<ellipse cx="0" cy="0" rx="10.4" ry="5.5" fill="#5fbb28" stroke="#000" stroke-width="2.5"/>
<ellipse cx="0.2" cy="-0.2" rx="8.3" ry="4.4" fill="#000"/>
<ellipse cx="-1.6" cy="0.6" rx="2.2" ry="1.1" fill="#5fbb28"/>
<ellipse cx="3.2" cy="0.3" rx="1" ry="0.9" fill="#5fbb28"/>
</g>
<g transform="translate(912.9 320.25) rotate(-5.4)">
<path d="M-6.1,9.8 L-6.1,45.5 A6.1,3.0 0 0 0 6.1,45.5 L6.1,9.8 Z" fill="#d6ee3c" stroke="#000" stroke-width="2.5" stroke-linejoin="round"/>
<path d="M-10.4,0 L-10.4,9.8 A10.4,5.5 0 0 0 10.4,9.8 L10.4,0 Z" fill="#d6ee3c" stroke="#000" stroke-width="2.5" stroke-linejoin="round"/>
<ellipse cx="0" cy="0" rx="10.4" ry="5.5" fill="#d6ee3c" stroke="#000" stroke-width="2.5"/>
<ellipse cx="0.2" cy="-0.2" rx="8.3" ry="4.4" fill="#000"/>
<ellipse cx="-1.6" cy="0.6" rx="2.2" ry="1.1" fill="#d6ee3c"/>
<ellipse cx="3.2" cy="0.3" rx="1" ry="0.9" fill="#d6ee3c"/>
</g>
<ellipse cx="998" cy="130" rx="12.3" ry="8.6" fill="#000" stroke="#000" stroke-width="1" />
<ellipse cx="998.3" cy="129.1" rx="10.4" ry="6.0" fill="#5fbb28" stroke="none" stroke-width="0" />
<ellipse cx="998.6" cy="129.7" rx="8.4" ry="4.8999999999999995" fill="#000" stroke="none" stroke-width="0" />
<ellipse cx="998.5" cy="130.6" rx="4.4" ry="1.6" fill="#fff" stroke="none" stroke-width="0" />
<ellipse cx="1005.5" cy="204.5" rx="12.3" ry="8.6" fill="#000" stroke="#000" stroke-width="1" />
<ellipse cx="1005.8" cy="203.6" rx="10.4" ry="6.0" fill="#5fbb28" stroke="none" stroke-width="0" />
<ellipse cx="1006.1" cy="204.2" rx="8.4" ry="4.8999999999999995" fill="#000" stroke="none" stroke-width="0" />
<ellipse cx="1006.0" cy="205.1" rx="4.4" ry="1.6" fill="#fff" stroke="none" stroke-width="0" />
<ellipse cx="748" cy="310.8" rx="12.3" ry="8.6" fill="#000" stroke="#000" stroke-width="1" />
<ellipse cx="748.3" cy="309.90000000000003" rx="10.4" ry="6.0" fill="#5fbb28" stroke="none" stroke-width="0" />
<ellipse cx="748.6" cy="310.5" rx="8.4" ry="4.8999999999999995" fill="#000" stroke="none" stroke-width="0" />
<ellipse cx="748.5" cy="311.40000000000003" rx="4.4" ry="1.6" fill="#fff" stroke="none" stroke-width="0" />
<ellipse cx="1169.4" cy="208.4" rx="12.3" ry="8.6" fill="#000" stroke="#000" stroke-width="1" />
<ellipse cx="1169.7" cy="207.5" rx="10.4" ry="6.0" fill="#5fbb28" stroke="none" stroke-width="0" />
<ellipse cx="1170.0" cy="208.1" rx="8.4" ry="4.8999999999999995" fill="#000" stroke="none" stroke-width="0" />
<ellipse cx="1169.9" cy="209.0" rx="4.4" ry="1.6" fill="#fff" stroke="none" stroke-width="0" />
<ellipse cx="1177" cy="283.3" rx="12.3" ry="8.6" fill="#000" stroke="#000" stroke-width="1" />
<ellipse cx="1177.3" cy="282.40000000000003" rx="10.4" ry="6.0" fill="#5fbb28" stroke="none" stroke-width="0" />
<ellipse cx="1177.6" cy="283.0" rx="8.4" ry="4.8999999999999995" fill="#000" stroke="none" stroke-width="0" />
<ellipse cx="1177.5" cy="283.90000000000003" rx="4.4" ry="1.6" fill="#fff" stroke="none" stroke-width="0" />
<ellipse cx="919.5" cy="388.8" rx="11.8" ry="8.3" fill="#000" stroke="#000" stroke-width="1" />
<ellipse cx="919.8" cy="387.90000000000003" rx="9.9" ry="5.700000000000001" fill="#d6ee3c" stroke="none" stroke-width="0" />
<ellipse cx="920.1" cy="388.5" rx="7.9" ry="4.6000000000000005" fill="#000" stroke="none" stroke-width="0" />
<ellipse cx="920.0" cy="389.40000000000003" rx="4.4" ry="1.6" fill="#5fbb28" stroke="none" stroke-width="0" />
<ellipse cx="927" cy="463.8" rx="12.7" ry="8.8" fill="#000" stroke="#000" stroke-width="1" />
<ellipse cx="927.3" cy="462.90000000000003" rx="10.799999999999999" ry="6.200000000000001" fill="#d6ee3c" stroke="none" stroke-width="0" />
<ellipse cx="927.6" cy="463.5" rx="8.799999999999999" ry="5.1000000000000005" fill="#000" stroke="none" stroke-width="0" />
<ellipse cx="927.5" cy="464.40000000000003" rx="4.4" ry="1.6" fill="#5fbb28" stroke="none" stroke-width="0" />
<line x1="808" y1="411" x2="906" y2="393.5" stroke="#f2f2f2" stroke-width="1.3" stroke-dasharray="10 1.5"/>
<line x1="870" y1="467.5" x2="914" y2="466" stroke="#d8d8d8" stroke-width="1.2" />
<line x1="763" y1="467.5" x2="870" y2="467.5" stroke="#444" stroke-width="1.1" />
<line x1="762" y1="50.5" x2="979" y2="50.5" stroke="#000" stroke-width="1.3" />
<line x1="760" y1="113.8" x2="986" y2="128.8" stroke="#000" stroke-width="0.85" stroke-dasharray="14 1.5"/>
<line x1="763.8" y1="156.2" x2="992.5" y2="198.8" stroke="#000" stroke-width="0.85" stroke-dasharray="12 1.5"/>
<line x1="616" y1="170" x2="900" y2="263.8" stroke="#000" stroke-width="0.85" stroke-dasharray="10 1.2"/>
<line x1="509" y1="234.5" x2="729.5" y2="234.5" stroke="#000" stroke-width="1.1" />
<line x1="513" y1="309" x2="735.5" y2="309" stroke="#000" stroke-width="1.1" />
<line x1="449" y1="372.5" x2="671" y2="372.5" stroke="#000" stroke-width="1.0" />
<line x1="647.5" y1="436" x2="905" y2="393.5" stroke="#000" stroke-width="0.85" stroke-dasharray="12 1.5"/>
<line x1="511" y1="467.5" x2="763" y2="467.5" stroke="#000" stroke-width="1.3" />
<line x1="480" y1="564.5" x2="763.8" y2="482.5" stroke="#000" stroke-width="0.85" stroke-dasharray="16 1.5"/>
<line x1="847" y1="332.5" x2="903" y2="332.8" stroke="#000" stroke-width="1.2" />
<line x1="1368" y1="90.5" x2="1172" y2="134.8" stroke="#000" stroke-width="0.85" stroke-dasharray="12 1.5"/>
<line x1="1391.6" y1="166" x2="1182.5" y2="209.7" stroke="#000" stroke-width="0.85" stroke-dasharray="12 1.5"/>
<line x1="1409" y1="246.5" x2="1191" y2="281.7" stroke="#000" stroke-width="0.85" stroke-dasharray="12 1.5"/>
<line x1="1475.7" y1="638.6" x2="1252.7" y2="638.6" stroke="#000" stroke-width="1.3" />
<line x1="1019" y1="791.5" x2="1045" y2="681" stroke="#000" stroke-width="0.85" stroke-dasharray="12 1.5"/>
<line x1="1019" y1="794" x2="1206.5" y2="757" stroke="#000" stroke-width="0.85" stroke-dasharray="12 1.5"/>
<text x="736.5" y="57.8" font-size="24">9</text>
<text x="743.5" y="120.8" font-size="24">3</text>
<text x="744.0" y="156.3" font-size="24">5</text>
<text x="596.5" y="167.8" font-size="24">8</text>
<text x="489.2" y="238.3" font-size="24">4</text>
<text x="489.5" y="314" font-size="24">3</text>
<text x="419.5" y="379" font-size="24">2</text>
<text x="622.0" y="445.5" font-size="24">3</text>
<text x="489.0" y="477.5" font-size="24">5</text>
<text x="824.7" y="341" font-size="24">4</text>
<path d="M466.6,577.2 L466.6,558.8 L465.1,558.8 Q463.2,562 459.8,563.7 L459.8,566.2 Q462.6,565.1 464.1,563.2 L464.1,577.2 Z" fill="#000" stroke="#000" stroke-width="0.3"/>
<text x="1375.0" y="89" font-size="24">9</text>
<text x="1400.0" y="167" font-size="24">3</text>
<text x="1425.5" y="247.4" font-size="24">5</text>
<text x="1484.0" y="642.3" font-size="24">6</text>
<text x="1002.7" y="816.4" font-size="24">7</text>
<path d="M161,1290 L210,1323.5 L102,1380 L117,1392 L9.3,1388 L26,1329 L46.5,1343 Z" fill="#fff" stroke="#000" stroke-width="1.6" stroke-linejoin="miter"/>
<path d="M210,1323.5 L209.5,1331 L101,1381.5 L94.5,1377 Z" fill="#000" stroke="#000" stroke-width="1"/>
<path d="M9.3,1388 L117,1392 L117,1399.5 L9.3,1395.5 Z" fill="#000" stroke="#000" stroke-width="1"/>
</svg>
</body></html>
